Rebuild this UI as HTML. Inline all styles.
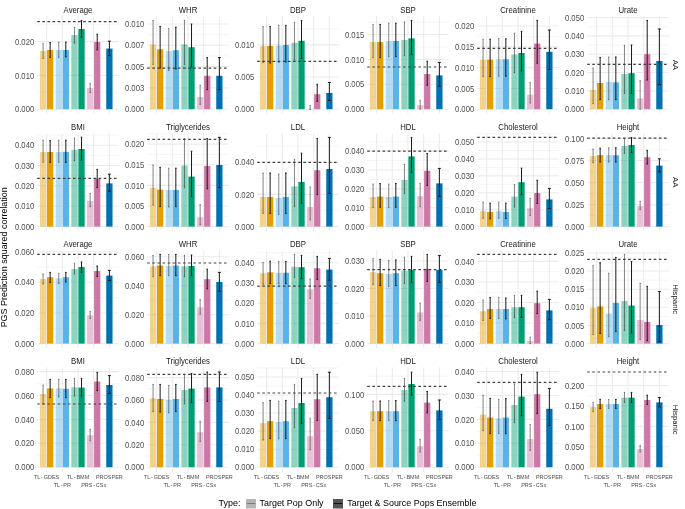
<!DOCTYPE html>
<html><head><meta charset="utf-8"><style>
html,body{margin:0;padding:0;background:#fff;}
svg{display:block;will-change:transform;filter:blur(0.35px);}
text{font-family:"Liberation Sans", sans-serif;}
.tk{font-size:7.7px;fill:#4D4D4D;text-anchor:end;}
.st{font-size:7.8px;fill:#1A1A1A;text-anchor:middle;}
.rs{font-size:7.8px;fill:#1A1A1A;text-anchor:middle;}
.xl{font-size:5.5px;fill:#4D4D4D;text-anchor:middle;}
.yt{font-size:8.95px;fill:#000;text-anchor:middle;}
.lg{font-size:8.95px;fill:#000;}
</style></head><body>
<svg width="685" height="509" viewBox="0 0 685 509">
<rect width="685" height="509" fill="#fff"/>
<line x1="37.2" y1="92.3" x2="118.8" y2="92.3" stroke="#EBEBEB" stroke-width="0.55"/>
<line x1="37.2" y1="58.5" x2="118.8" y2="58.5" stroke="#EBEBEB" stroke-width="0.55"/>
<line x1="37.2" y1="24.7" x2="118.8" y2="24.7" stroke="#EBEBEB" stroke-width="0.55"/>
<line x1="37.2" y1="109.2" x2="118.8" y2="109.2" stroke="#EBEBEB" stroke-width="1.07"/>
<line x1="37.2" y1="75.4" x2="118.8" y2="75.4" stroke="#EBEBEB" stroke-width="1.07"/>
<line x1="37.2" y1="41.6" x2="118.8" y2="41.6" stroke="#EBEBEB" stroke-width="1.07"/>
<line x1="46.61" y1="16.1" x2="46.61" y2="113.6" stroke="#EBEBEB" stroke-width="1.07"/>
<line x1="62.3" y1="16.1" x2="62.3" y2="113.6" stroke="#EBEBEB" stroke-width="1.07"/>
<line x1="77.99" y1="16.1" x2="77.99" y2="113.6" stroke="#EBEBEB" stroke-width="1.07"/>
<line x1="93.68" y1="16.1" x2="93.68" y2="113.6" stroke="#EBEBEB" stroke-width="1.07"/>
<line x1="109.37" y1="16.1" x2="109.37" y2="113.6" stroke="#EBEBEB" stroke-width="1.07"/>
<text transform="translate(34.2 112.35) scale(1 1.12)" class="tk">0.000</text>
<text transform="translate(34.2 78.55) scale(1 1.12)" class="tk">0.010</text>
<text transform="translate(34.2 44.75) scale(1 1.12)" class="tk">0.020</text>
<rect x="39.95" y="51" width="6.28" height="58.2" fill="#E69F00" fill-opacity="0.45"/>
<rect x="47.01" y="50" width="6.28" height="59.2" fill="#E69F00"/>
<rect x="55.64" y="50" width="6.28" height="59.2" fill="#56B4E9" fill-opacity="0.45"/>
<rect x="62.7" y="50" width="6.28" height="59.2" fill="#56B4E9"/>
<rect x="71.33" y="35" width="6.28" height="74.2" fill="#009E73" fill-opacity="0.45"/>
<rect x="78.39" y="29" width="6.28" height="80.2" fill="#009E73"/>
<rect x="87.02" y="88" width="6.28" height="21.2" fill="#CC79A7" fill-opacity="0.45"/>
<rect x="94.08" y="42" width="6.28" height="67.2" fill="#CC79A7"/>
<rect x="106.24" y="48.6" width="6.28" height="60.6" fill="#0072B2"/>
<path d="M43.08 43.6V58.4M42.43 43.6H43.73M42.43 58.4H43.73" stroke="#333333" stroke-width="0.6" fill="none"/>
<path d="M50.14 42.6V57.4M49.34 42.6H50.94M49.34 57.4H50.94" stroke="#1A1A1A" stroke-width="1.0" fill="none"/>
<path d="M58.77 42.4V57.4M58.12 42.4H59.42M58.12 57.4H59.42" stroke="#333333" stroke-width="0.6" fill="none"/>
<path d="M65.83 42.2V56.8M65.03 42.2H66.63M65.03 56.8H66.63" stroke="#1A1A1A" stroke-width="1.0" fill="none"/>
<path d="M74.46 27.2V43.2M73.81 27.2H75.11M73.81 43.2H75.11" stroke="#333333" stroke-width="0.6" fill="none"/>
<path d="M81.52 20.4V37.2M80.72 20.4H82.32M80.72 37.2H82.32" stroke="#1A1A1A" stroke-width="1.0" fill="none"/>
<path d="M90.15 83.2V92.6M89.5 83.2H90.8M89.5 92.6H90.8" stroke="#333333" stroke-width="0.6" fill="none"/>
<path d="M97.21 34.2V49.8M96.41 34.2H98.01M96.41 49.8H98.01" stroke="#1A1A1A" stroke-width="1.0" fill="none"/>
<path d="M109.37 41.2V55.6M107.87 41.2H110.87M107.87 55.6H110.87" stroke="#1A1A1A" stroke-width="1.0" fill="none"/>
<line x1="37.2" y1="21.6" x2="118.8" y2="21.6" stroke="#404040" stroke-width="1.2" stroke-dasharray="2.58 2.54"/>
<text transform="translate(78 12.6) scale(1 1.12)" class="st">Average</text>
<line x1="147.2" y1="98.55" x2="228.8" y2="98.55" stroke="#EBEBEB" stroke-width="0.55"/>
<line x1="147.2" y1="77.25" x2="228.8" y2="77.25" stroke="#EBEBEB" stroke-width="0.55"/>
<line x1="147.2" y1="55.95" x2="228.8" y2="55.95" stroke="#EBEBEB" stroke-width="0.55"/>
<line x1="147.2" y1="34.65" x2="228.8" y2="34.65" stroke="#EBEBEB" stroke-width="0.55"/>
<line x1="147.2" y1="109.2" x2="228.8" y2="109.2" stroke="#EBEBEB" stroke-width="1.07"/>
<line x1="147.2" y1="87.9" x2="228.8" y2="87.9" stroke="#EBEBEB" stroke-width="1.07"/>
<line x1="147.2" y1="66.6" x2="228.8" y2="66.6" stroke="#EBEBEB" stroke-width="1.07"/>
<line x1="147.2" y1="45.3" x2="228.8" y2="45.3" stroke="#EBEBEB" stroke-width="1.07"/>
<line x1="147.2" y1="24" x2="228.8" y2="24" stroke="#EBEBEB" stroke-width="1.07"/>
<line x1="156.61" y1="16.1" x2="156.61" y2="113.6" stroke="#EBEBEB" stroke-width="1.07"/>
<line x1="172.3" y1="16.1" x2="172.3" y2="113.6" stroke="#EBEBEB" stroke-width="1.07"/>
<line x1="187.99" y1="16.1" x2="187.99" y2="113.6" stroke="#EBEBEB" stroke-width="1.07"/>
<line x1="203.68" y1="16.1" x2="203.68" y2="113.6" stroke="#EBEBEB" stroke-width="1.07"/>
<line x1="219.37" y1="16.1" x2="219.37" y2="113.6" stroke="#EBEBEB" stroke-width="1.07"/>
<text transform="translate(144.2 112.35) scale(1 1.12)" class="tk">0.000</text>
<text transform="translate(144.2 91.05) scale(1 1.12)" class="tk">0.003</text>
<text transform="translate(144.2 69.75) scale(1 1.12)" class="tk">0.005</text>
<text transform="translate(144.2 48.45) scale(1 1.12)" class="tk">0.007</text>
<text transform="translate(144.2 27.15) scale(1 1.12)" class="tk">0.010</text>
<rect x="149.95" y="44.4" width="6.28" height="64.8" fill="#E69F00" fill-opacity="0.45"/>
<rect x="157.01" y="49.2" width="6.28" height="60" fill="#E69F00"/>
<rect x="165.64" y="51" width="6.28" height="58.2" fill="#56B4E9" fill-opacity="0.45"/>
<rect x="172.7" y="50.2" width="6.28" height="59" fill="#56B4E9"/>
<rect x="181.33" y="44.4" width="6.28" height="64.8" fill="#009E73" fill-opacity="0.45"/>
<rect x="188.39" y="47.2" width="6.28" height="62" fill="#009E73"/>
<rect x="197.02" y="97" width="6.28" height="12.2" fill="#CC79A7" fill-opacity="0.45"/>
<rect x="204.08" y="75.8" width="6.28" height="33.4" fill="#CC79A7"/>
<rect x="216.24" y="75.8" width="6.28" height="33.4" fill="#0072B2"/>
<path d="M153.08 20.4V64.4M152.43 20.4H153.73M152.43 64.4H153.73" stroke="#333333" stroke-width="0.6" fill="none"/>
<path d="M160.14 26.4V68M159.34 26.4H160.94M159.34 68H160.94" stroke="#1A1A1A" stroke-width="1.0" fill="none"/>
<path d="M168.77 28.4V70.4M168.12 28.4H169.42M168.12 70.4H169.42" stroke="#333333" stroke-width="0.6" fill="none"/>
<path d="M175.83 27.2V69M175.03 27.2H176.63M175.03 69H176.63" stroke="#1A1A1A" stroke-width="1.0" fill="none"/>
<path d="M184.46 20.4V64.4M183.81 20.4H185.11M183.81 64.4H185.11" stroke="#333333" stroke-width="0.6" fill="none"/>
<path d="M191.52 24V67M190.72 24H192.32M190.72 67H192.32" stroke="#1A1A1A" stroke-width="1.0" fill="none"/>
<path d="M200.15 85.2V104.4M199.5 85.2H200.8M199.5 104.4H200.8" stroke="#333333" stroke-width="0.6" fill="none"/>
<path d="M207.21 57.6V89.6M206.41 57.6H208.01M206.41 89.6H208.01" stroke="#1A1A1A" stroke-width="1.0" fill="none"/>
<path d="M219.37 57.6V89.6M217.87 57.6H220.87M217.87 89.6H220.87" stroke="#1A1A1A" stroke-width="1.0" fill="none"/>
<line x1="147.2" y1="68.2" x2="228.8" y2="68.2" stroke="#404040" stroke-width="1.2" stroke-dasharray="2.58 2.54"/>
<text transform="translate(188 12.6) scale(1 1.12)" class="st">WHR</text>
<line x1="257.2" y1="93.12" x2="338.8" y2="93.12" stroke="#EBEBEB" stroke-width="0.55"/>
<line x1="257.2" y1="60.96" x2="338.8" y2="60.96" stroke="#EBEBEB" stroke-width="0.55"/>
<line x1="257.2" y1="28.8" x2="338.8" y2="28.8" stroke="#EBEBEB" stroke-width="0.55"/>
<line x1="257.2" y1="109.2" x2="338.8" y2="109.2" stroke="#EBEBEB" stroke-width="1.07"/>
<line x1="257.2" y1="77.04" x2="338.8" y2="77.04" stroke="#EBEBEB" stroke-width="1.07"/>
<line x1="257.2" y1="44.88" x2="338.8" y2="44.88" stroke="#EBEBEB" stroke-width="1.07"/>
<line x1="266.61" y1="16.1" x2="266.61" y2="113.6" stroke="#EBEBEB" stroke-width="1.07"/>
<line x1="282.3" y1="16.1" x2="282.3" y2="113.6" stroke="#EBEBEB" stroke-width="1.07"/>
<line x1="297.99" y1="16.1" x2="297.99" y2="113.6" stroke="#EBEBEB" stroke-width="1.07"/>
<line x1="313.68" y1="16.1" x2="313.68" y2="113.6" stroke="#EBEBEB" stroke-width="1.07"/>
<line x1="329.37" y1="16.1" x2="329.37" y2="113.6" stroke="#EBEBEB" stroke-width="1.07"/>
<text transform="translate(254.2 112.35) scale(1 1.12)" class="tk">0.000</text>
<text transform="translate(254.2 80.19) scale(1 1.12)" class="tk">0.005</text>
<text transform="translate(254.2 48.03) scale(1 1.12)" class="tk">0.010</text>
<rect x="259.95" y="46.2" width="6.28" height="63" fill="#E69F00" fill-opacity="0.45"/>
<rect x="267.01" y="46" width="6.28" height="63.2" fill="#E69F00"/>
<rect x="275.64" y="45.6" width="6.28" height="63.6" fill="#56B4E9" fill-opacity="0.45"/>
<rect x="282.7" y="45" width="6.28" height="64.2" fill="#56B4E9"/>
<rect x="291.33" y="42.8" width="6.28" height="66.4" fill="#009E73" fill-opacity="0.45"/>
<rect x="298.39" y="40.8" width="6.28" height="68.4" fill="#009E73"/>
<rect x="307.02" y="108.8" width="6.28" height="0.4" fill="#CC79A7" fill-opacity="0.45"/>
<rect x="314.08" y="94.2" width="6.28" height="15" fill="#CC79A7"/>
<rect x="326.24" y="93" width="6.28" height="16.2" fill="#0072B2"/>
<path d="M263.08 26.6V62.6M262.43 26.6H263.73M262.43 62.6H263.73" stroke="#333333" stroke-width="0.6" fill="none"/>
<path d="M270.14 26.6V63M269.34 26.6H270.94M269.34 63H270.94" stroke="#1A1A1A" stroke-width="1.0" fill="none"/>
<path d="M278.77 25.4V62.6M278.12 25.4H279.42M278.12 62.6H279.42" stroke="#333333" stroke-width="0.6" fill="none"/>
<path d="M285.83 25.4V62M285.03 25.4H286.63M285.03 62H286.63" stroke="#1A1A1A" stroke-width="1.0" fill="none"/>
<path d="M294.46 22.4V60M293.81 22.4H295.11M293.81 60H295.11" stroke="#333333" stroke-width="0.6" fill="none"/>
<path d="M301.52 20.4V58.4M300.72 20.4H302.32M300.72 58.4H302.32" stroke="#1A1A1A" stroke-width="1.0" fill="none"/>
<path d="M310.15 105.6V109.6M309.5 105.6H310.8M309.5 109.6H310.8" stroke="#333333" stroke-width="0.6" fill="none"/>
<path d="M317.21 84.2V101.4M316.41 84.2H318.01M316.41 101.4H318.01" stroke="#1A1A1A" stroke-width="1.0" fill="none"/>
<path d="M329.37 82.4V100.4M327.87 82.4H330.87M327.87 100.4H330.87" stroke="#1A1A1A" stroke-width="1.0" fill="none"/>
<line x1="257.2" y1="61.4" x2="338.8" y2="61.4" stroke="#404040" stroke-width="1.2" stroke-dasharray="2.58 2.54"/>
<text transform="translate(298 12.6) scale(1 1.12)" class="st">DBP</text>
<line x1="367.2" y1="96.76" x2="448.8" y2="96.76" stroke="#EBEBEB" stroke-width="0.55"/>
<line x1="367.2" y1="71.87" x2="448.8" y2="71.87" stroke="#EBEBEB" stroke-width="0.55"/>
<line x1="367.2" y1="46.99" x2="448.8" y2="46.99" stroke="#EBEBEB" stroke-width="0.55"/>
<line x1="367.2" y1="22.1" x2="448.8" y2="22.1" stroke="#EBEBEB" stroke-width="0.55"/>
<line x1="367.2" y1="109.2" x2="448.8" y2="109.2" stroke="#EBEBEB" stroke-width="1.07"/>
<line x1="367.2" y1="84.31" x2="448.8" y2="84.31" stroke="#EBEBEB" stroke-width="1.07"/>
<line x1="367.2" y1="59.43" x2="448.8" y2="59.43" stroke="#EBEBEB" stroke-width="1.07"/>
<line x1="367.2" y1="34.54" x2="448.8" y2="34.54" stroke="#EBEBEB" stroke-width="1.07"/>
<line x1="376.61" y1="16.1" x2="376.61" y2="113.6" stroke="#EBEBEB" stroke-width="1.07"/>
<line x1="392.3" y1="16.1" x2="392.3" y2="113.6" stroke="#EBEBEB" stroke-width="1.07"/>
<line x1="407.99" y1="16.1" x2="407.99" y2="113.6" stroke="#EBEBEB" stroke-width="1.07"/>
<line x1="423.68" y1="16.1" x2="423.68" y2="113.6" stroke="#EBEBEB" stroke-width="1.07"/>
<line x1="439.37" y1="16.1" x2="439.37" y2="113.6" stroke="#EBEBEB" stroke-width="1.07"/>
<text transform="translate(364.2 112.35) scale(1 1.12)" class="tk">0.000</text>
<text transform="translate(364.2 87.46) scale(1 1.12)" class="tk">0.005</text>
<text transform="translate(364.2 62.58) scale(1 1.12)" class="tk">0.010</text>
<text transform="translate(364.2 37.69) scale(1 1.12)" class="tk">0.015</text>
<rect x="369.95" y="42" width="6.28" height="67.2" fill="#E69F00" fill-opacity="0.45"/>
<rect x="377.01" y="42" width="6.28" height="67.2" fill="#E69F00"/>
<rect x="385.64" y="41" width="6.28" height="68.2" fill="#56B4E9" fill-opacity="0.45"/>
<rect x="392.7" y="41" width="6.28" height="68.2" fill="#56B4E9"/>
<rect x="401.33" y="40" width="6.28" height="69.2" fill="#009E73" fill-opacity="0.45"/>
<rect x="408.39" y="38.4" width="6.28" height="70.8" fill="#009E73"/>
<rect x="417.02" y="105.2" width="6.28" height="4" fill="#CC79A7" fill-opacity="0.45"/>
<rect x="424.08" y="74" width="6.28" height="35.2" fill="#CC79A7"/>
<rect x="436.24" y="75.4" width="6.28" height="33.8" fill="#0072B2"/>
<path d="M373.08 24.4V57.6M372.43 24.4H373.73M372.43 57.6H373.73" stroke="#333333" stroke-width="0.6" fill="none"/>
<path d="M380.14 24.4V57.6M379.34 24.4H380.94M379.34 57.6H380.94" stroke="#1A1A1A" stroke-width="1.0" fill="none"/>
<path d="M388.77 23.2V56.6M388.12 23.2H389.42M388.12 56.6H389.42" stroke="#333333" stroke-width="0.6" fill="none"/>
<path d="M395.83 23.2V56.6M395.03 23.2H396.63M395.03 56.6H396.63" stroke="#1A1A1A" stroke-width="1.0" fill="none"/>
<path d="M404.46 22V55.6M403.81 22H405.11M403.81 55.6H405.11" stroke="#333333" stroke-width="0.6" fill="none"/>
<path d="M411.52 20.4V54.6M410.72 20.4H412.32M410.72 54.6H412.32" stroke="#1A1A1A" stroke-width="1.0" fill="none"/>
<path d="M420.15 100.2V109.2M419.5 100.2H420.8M419.5 109.2H420.8" stroke="#333333" stroke-width="0.6" fill="none"/>
<path d="M427.21 61.2V85.2M426.41 61.2H428.01M426.41 85.2H428.01" stroke="#1A1A1A" stroke-width="1.0" fill="none"/>
<path d="M439.37 62.4V86.2M437.87 62.4H440.87M437.87 86.2H440.87" stroke="#1A1A1A" stroke-width="1.0" fill="none"/>
<line x1="367.2" y1="67" x2="448.8" y2="67" stroke="#404040" stroke-width="1.2" stroke-dasharray="2.58 2.54"/>
<text transform="translate(408 12.6) scale(1 1.12)" class="st">SBP</text>
<line x1="477.2" y1="98.81" x2="558.8" y2="98.81" stroke="#EBEBEB" stroke-width="0.55"/>
<line x1="477.2" y1="78.02" x2="558.8" y2="78.02" stroke="#EBEBEB" stroke-width="0.55"/>
<line x1="477.2" y1="57.23" x2="558.8" y2="57.23" stroke="#EBEBEB" stroke-width="0.55"/>
<line x1="477.2" y1="36.45" x2="558.8" y2="36.45" stroke="#EBEBEB" stroke-width="0.55"/>
<line x1="477.2" y1="109.2" x2="558.8" y2="109.2" stroke="#EBEBEB" stroke-width="1.07"/>
<line x1="477.2" y1="88.41" x2="558.8" y2="88.41" stroke="#EBEBEB" stroke-width="1.07"/>
<line x1="477.2" y1="67.63" x2="558.8" y2="67.63" stroke="#EBEBEB" stroke-width="1.07"/>
<line x1="477.2" y1="46.84" x2="558.8" y2="46.84" stroke="#EBEBEB" stroke-width="1.07"/>
<line x1="477.2" y1="26.05" x2="558.8" y2="26.05" stroke="#EBEBEB" stroke-width="1.07"/>
<line x1="486.61" y1="16.1" x2="486.61" y2="113.6" stroke="#EBEBEB" stroke-width="1.07"/>
<line x1="502.3" y1="16.1" x2="502.3" y2="113.6" stroke="#EBEBEB" stroke-width="1.07"/>
<line x1="517.99" y1="16.1" x2="517.99" y2="113.6" stroke="#EBEBEB" stroke-width="1.07"/>
<line x1="533.68" y1="16.1" x2="533.68" y2="113.6" stroke="#EBEBEB" stroke-width="1.07"/>
<line x1="549.37" y1="16.1" x2="549.37" y2="113.6" stroke="#EBEBEB" stroke-width="1.07"/>
<text transform="translate(474.2 112.35) scale(1 1.12)" class="tk">0.000</text>
<text transform="translate(474.2 91.56) scale(1 1.12)" class="tk">0.005</text>
<text transform="translate(474.2 70.78) scale(1 1.12)" class="tk">0.010</text>
<text transform="translate(474.2 49.99) scale(1 1.12)" class="tk">0.015</text>
<text transform="translate(474.2 29.2) scale(1 1.12)" class="tk">0.020</text>
<rect x="479.95" y="59.6" width="6.28" height="49.6" fill="#E69F00" fill-opacity="0.45"/>
<rect x="487.01" y="59.6" width="6.28" height="49.6" fill="#E69F00"/>
<rect x="495.64" y="59.2" width="6.28" height="50" fill="#56B4E9" fill-opacity="0.45"/>
<rect x="502.7" y="59.2" width="6.28" height="50" fill="#56B4E9"/>
<rect x="511.33" y="54.4" width="6.28" height="54.8" fill="#009E73" fill-opacity="0.45"/>
<rect x="518.39" y="53" width="6.28" height="56.2" fill="#009E73"/>
<rect x="527.02" y="94.6" width="6.28" height="14.6" fill="#CC79A7" fill-opacity="0.45"/>
<rect x="534.08" y="43.6" width="6.28" height="65.6" fill="#CC79A7"/>
<rect x="546.24" y="51.8" width="6.28" height="57.4" fill="#0072B2"/>
<path d="M483.08 39.2V76.6M482.43 39.2H483.73M482.43 76.6H483.73" stroke="#333333" stroke-width="0.6" fill="none"/>
<path d="M490.14 39.2V76.6M489.34 39.2H490.94M489.34 76.6H490.94" stroke="#1A1A1A" stroke-width="1.0" fill="none"/>
<path d="M498.77 38.4V76.2M498.12 38.4H499.42M498.12 76.2H499.42" stroke="#333333" stroke-width="0.6" fill="none"/>
<path d="M505.83 38.8V76.2M505.03 38.8H506.63M505.03 76.2H506.63" stroke="#1A1A1A" stroke-width="1.0" fill="none"/>
<path d="M514.46 33.2V72.6M513.81 33.2H515.11M513.81 72.6H515.11" stroke="#333333" stroke-width="0.6" fill="none"/>
<path d="M521.52 31.4V71M520.72 31.4H522.32M520.72 71H522.32" stroke="#1A1A1A" stroke-width="1.0" fill="none"/>
<path d="M530.15 82.4V103M529.5 82.4H530.8M529.5 103H530.8" stroke="#333333" stroke-width="0.6" fill="none"/>
<path d="M537.21 20.4V63.2M536.41 20.4H538.01M536.41 63.2H538.01" stroke="#1A1A1A" stroke-width="1.0" fill="none"/>
<path d="M549.37 30V69.4M547.87 30H550.87M547.87 69.4H550.87" stroke="#1A1A1A" stroke-width="1.0" fill="none"/>
<line x1="477.2" y1="48.4" x2="558.8" y2="48.4" stroke="#404040" stroke-width="1.2" stroke-dasharray="2.58 2.54"/>
<text transform="translate(518 12.6) scale(1 1.12)" class="st">Creatinine</text>
<line x1="587.2" y1="100.04" x2="668.8" y2="100.04" stroke="#EBEBEB" stroke-width="0.55"/>
<line x1="587.2" y1="81.71" x2="668.8" y2="81.71" stroke="#EBEBEB" stroke-width="0.55"/>
<line x1="587.2" y1="63.38" x2="668.8" y2="63.38" stroke="#EBEBEB" stroke-width="0.55"/>
<line x1="587.2" y1="45.05" x2="668.8" y2="45.05" stroke="#EBEBEB" stroke-width="0.55"/>
<line x1="587.2" y1="26.73" x2="668.8" y2="26.73" stroke="#EBEBEB" stroke-width="0.55"/>
<line x1="587.2" y1="109.2" x2="668.8" y2="109.2" stroke="#EBEBEB" stroke-width="1.07"/>
<line x1="587.2" y1="90.87" x2="668.8" y2="90.87" stroke="#EBEBEB" stroke-width="1.07"/>
<line x1="587.2" y1="72.55" x2="668.8" y2="72.55" stroke="#EBEBEB" stroke-width="1.07"/>
<line x1="587.2" y1="54.22" x2="668.8" y2="54.22" stroke="#EBEBEB" stroke-width="1.07"/>
<line x1="587.2" y1="35.89" x2="668.8" y2="35.89" stroke="#EBEBEB" stroke-width="1.07"/>
<line x1="587.2" y1="17.56" x2="668.8" y2="17.56" stroke="#EBEBEB" stroke-width="1.07"/>
<line x1="596.61" y1="16.1" x2="596.61" y2="113.6" stroke="#EBEBEB" stroke-width="1.07"/>
<line x1="612.3" y1="16.1" x2="612.3" y2="113.6" stroke="#EBEBEB" stroke-width="1.07"/>
<line x1="627.99" y1="16.1" x2="627.99" y2="113.6" stroke="#EBEBEB" stroke-width="1.07"/>
<line x1="643.68" y1="16.1" x2="643.68" y2="113.6" stroke="#EBEBEB" stroke-width="1.07"/>
<line x1="659.37" y1="16.1" x2="659.37" y2="113.6" stroke="#EBEBEB" stroke-width="1.07"/>
<text transform="translate(584.2 112.35) scale(1 1.12)" class="tk">0.000</text>
<text transform="translate(584.2 94.02) scale(1 1.12)" class="tk">0.010</text>
<text transform="translate(584.2 75.7) scale(1 1.12)" class="tk">0.020</text>
<text transform="translate(584.2 57.37) scale(1 1.12)" class="tk">0.030</text>
<text transform="translate(584.2 39.04) scale(1 1.12)" class="tk">0.040</text>
<text transform="translate(584.2 20.71) scale(1 1.12)" class="tk">0.050</text>
<rect x="589.95" y="90" width="6.28" height="19.2" fill="#E69F00" fill-opacity="0.45"/>
<rect x="597.01" y="83" width="6.28" height="26.2" fill="#E69F00"/>
<rect x="605.64" y="82" width="6.28" height="27.2" fill="#56B4E9" fill-opacity="0.45"/>
<rect x="612.7" y="82.4" width="6.28" height="26.8" fill="#56B4E9"/>
<rect x="621.33" y="74" width="6.28" height="35.2" fill="#009E73" fill-opacity="0.45"/>
<rect x="628.39" y="73.2" width="6.28" height="36" fill="#009E73"/>
<rect x="637.02" y="98.4" width="6.28" height="10.8" fill="#CC79A7" fill-opacity="0.45"/>
<rect x="644.08" y="54.2" width="6.28" height="55" fill="#CC79A7"/>
<rect x="656.24" y="61" width="6.28" height="48.2" fill="#0072B2"/>
<path d="M593.08 68V103.6M592.43 68H593.73M592.43 103.6H593.73" stroke="#333333" stroke-width="0.6" fill="none"/>
<path d="M600.14 57.6V99.6M599.34 57.6H600.94M599.34 99.6H600.94" stroke="#1A1A1A" stroke-width="1.0" fill="none"/>
<path d="M608.77 57V99.6M608.12 57H609.42M608.12 99.6H609.42" stroke="#333333" stroke-width="0.6" fill="none"/>
<path d="M615.83 57V99.6M615.03 57H616.63M615.03 99.6H616.63" stroke="#1A1A1A" stroke-width="1.0" fill="none"/>
<path d="M624.46 45.4V93.6M623.81 45.4H625.11M623.81 93.6H625.11" stroke="#333333" stroke-width="0.6" fill="none"/>
<path d="M631.52 45V93.6M630.72 45H632.32M630.72 93.6H632.32" stroke="#1A1A1A" stroke-width="1.0" fill="none"/>
<path d="M640.15 80.6V109.2M639.5 80.6H640.8M639.5 109.2H640.8" stroke="#333333" stroke-width="0.6" fill="none"/>
<path d="M647.21 20.4V80M646.41 20.4H648.01M646.41 80H648.01" stroke="#1A1A1A" stroke-width="1.0" fill="none"/>
<path d="M659.37 29V84.6M657.87 29H660.87M657.87 84.6H660.87" stroke="#1A1A1A" stroke-width="1.0" fill="none"/>
<line x1="587.2" y1="64.4" x2="668.8" y2="64.4" stroke="#404040" stroke-width="1.2" stroke-dasharray="2.58 2.54"/>
<text transform="translate(628 12.6) scale(1 1.12)" class="st">Urate</text>
<text transform="translate(672.7 64.85) rotate(90)" class="rs">AA</text>
<line x1="37.2" y1="216.42" x2="118.8" y2="216.42" stroke="#EBEBEB" stroke-width="0.55"/>
<line x1="37.2" y1="196.07" x2="118.8" y2="196.07" stroke="#EBEBEB" stroke-width="0.55"/>
<line x1="37.2" y1="175.72" x2="118.8" y2="175.72" stroke="#EBEBEB" stroke-width="0.55"/>
<line x1="37.2" y1="155.36" x2="118.8" y2="155.36" stroke="#EBEBEB" stroke-width="0.55"/>
<line x1="37.2" y1="135.01" x2="118.8" y2="135.01" stroke="#EBEBEB" stroke-width="0.55"/>
<line x1="37.2" y1="226.6" x2="118.8" y2="226.6" stroke="#EBEBEB" stroke-width="1.07"/>
<line x1="37.2" y1="206.25" x2="118.8" y2="206.25" stroke="#EBEBEB" stroke-width="1.07"/>
<line x1="37.2" y1="185.89" x2="118.8" y2="185.89" stroke="#EBEBEB" stroke-width="1.07"/>
<line x1="37.2" y1="165.54" x2="118.8" y2="165.54" stroke="#EBEBEB" stroke-width="1.07"/>
<line x1="37.2" y1="145.19" x2="118.8" y2="145.19" stroke="#EBEBEB" stroke-width="1.07"/>
<line x1="46.61" y1="133.4" x2="46.61" y2="231" stroke="#EBEBEB" stroke-width="1.07"/>
<line x1="62.3" y1="133.4" x2="62.3" y2="231" stroke="#EBEBEB" stroke-width="1.07"/>
<line x1="77.99" y1="133.4" x2="77.99" y2="231" stroke="#EBEBEB" stroke-width="1.07"/>
<line x1="93.68" y1="133.4" x2="93.68" y2="231" stroke="#EBEBEB" stroke-width="1.07"/>
<line x1="109.37" y1="133.4" x2="109.37" y2="231" stroke="#EBEBEB" stroke-width="1.07"/>
<text transform="translate(34.2 229.75) scale(1 1.12)" class="tk">0.000</text>
<text transform="translate(34.2 209.4) scale(1 1.12)" class="tk">0.010</text>
<text transform="translate(34.2 189.04) scale(1 1.12)" class="tk">0.020</text>
<text transform="translate(34.2 168.69) scale(1 1.12)" class="tk">0.030</text>
<text transform="translate(34.2 148.34) scale(1 1.12)" class="tk">0.040</text>
<rect x="39.95" y="152" width="6.28" height="74.6" fill="#E69F00" fill-opacity="0.45"/>
<rect x="47.01" y="152" width="6.28" height="74.6" fill="#E69F00"/>
<rect x="55.64" y="152" width="6.28" height="74.6" fill="#56B4E9" fill-opacity="0.45"/>
<rect x="62.7" y="151.8" width="6.28" height="74.8" fill="#56B4E9"/>
<rect x="71.33" y="149.8" width="6.28" height="76.8" fill="#009E73" fill-opacity="0.45"/>
<rect x="78.39" y="149" width="6.28" height="77.6" fill="#009E73"/>
<rect x="87.02" y="201" width="6.28" height="25.6" fill="#CC79A7" fill-opacity="0.45"/>
<rect x="94.08" y="178.6" width="6.28" height="48" fill="#CC79A7"/>
<rect x="106.24" y="183.4" width="6.28" height="43.2" fill="#0072B2"/>
<path d="M43.08 140.2V162.4M42.43 140.2H43.73M42.43 162.4H43.73" stroke="#333333" stroke-width="0.6" fill="none"/>
<path d="M50.14 140.6V162.4M49.34 140.6H50.94M49.34 162.4H50.94" stroke="#1A1A1A" stroke-width="1.0" fill="none"/>
<path d="M58.77 140.2V162.4M58.12 140.2H59.42M58.12 162.4H59.42" stroke="#333333" stroke-width="0.6" fill="none"/>
<path d="M65.83 140.2V162.4M65.03 140.2H66.63M65.03 162.4H66.63" stroke="#1A1A1A" stroke-width="1.0" fill="none"/>
<path d="M74.46 138V160.6M73.81 138H75.11M73.81 160.6H75.11" stroke="#333333" stroke-width="0.6" fill="none"/>
<path d="M81.52 137.2V160M80.72 137.2H82.32M80.72 160H82.32" stroke="#1A1A1A" stroke-width="1.0" fill="none"/>
<path d="M90.15 193.4V206.6M89.5 193.4H90.8M89.5 206.6H90.8" stroke="#333333" stroke-width="0.6" fill="none"/>
<path d="M97.21 169.4V187.6M96.41 169.4H98.01M96.41 187.6H98.01" stroke="#1A1A1A" stroke-width="1.0" fill="none"/>
<path d="M109.37 174.2V191.2M107.87 174.2H110.87M107.87 191.2H110.87" stroke="#1A1A1A" stroke-width="1.0" fill="none"/>
<line x1="37.2" y1="178.4" x2="118.8" y2="178.4" stroke="#404040" stroke-width="1.2" stroke-dasharray="2.58 2.54"/>
<text transform="translate(78 129.9) scale(1 1.12)" class="st">BMI</text>
<line x1="147.2" y1="216.29" x2="228.8" y2="216.29" stroke="#EBEBEB" stroke-width="0.55"/>
<line x1="147.2" y1="195.68" x2="228.8" y2="195.68" stroke="#EBEBEB" stroke-width="0.55"/>
<line x1="147.2" y1="175.07" x2="228.8" y2="175.07" stroke="#EBEBEB" stroke-width="0.55"/>
<line x1="147.2" y1="154.45" x2="228.8" y2="154.45" stroke="#EBEBEB" stroke-width="0.55"/>
<line x1="147.2" y1="133.84" x2="228.8" y2="133.84" stroke="#EBEBEB" stroke-width="0.55"/>
<line x1="147.2" y1="226.6" x2="228.8" y2="226.6" stroke="#EBEBEB" stroke-width="1.07"/>
<line x1="147.2" y1="205.99" x2="228.8" y2="205.99" stroke="#EBEBEB" stroke-width="1.07"/>
<line x1="147.2" y1="185.37" x2="228.8" y2="185.37" stroke="#EBEBEB" stroke-width="1.07"/>
<line x1="147.2" y1="164.76" x2="228.8" y2="164.76" stroke="#EBEBEB" stroke-width="1.07"/>
<line x1="147.2" y1="144.15" x2="228.8" y2="144.15" stroke="#EBEBEB" stroke-width="1.07"/>
<line x1="156.61" y1="133.4" x2="156.61" y2="231" stroke="#EBEBEB" stroke-width="1.07"/>
<line x1="172.3" y1="133.4" x2="172.3" y2="231" stroke="#EBEBEB" stroke-width="1.07"/>
<line x1="187.99" y1="133.4" x2="187.99" y2="231" stroke="#EBEBEB" stroke-width="1.07"/>
<line x1="203.68" y1="133.4" x2="203.68" y2="231" stroke="#EBEBEB" stroke-width="1.07"/>
<line x1="219.37" y1="133.4" x2="219.37" y2="231" stroke="#EBEBEB" stroke-width="1.07"/>
<text transform="translate(144.2 229.75) scale(1 1.12)" class="tk">0.000</text>
<text transform="translate(144.2 209.14) scale(1 1.12)" class="tk">0.005</text>
<text transform="translate(144.2 188.52) scale(1 1.12)" class="tk">0.010</text>
<text transform="translate(144.2 167.91) scale(1 1.12)" class="tk">0.015</text>
<text transform="translate(144.2 147.3) scale(1 1.12)" class="tk">0.020</text>
<rect x="149.95" y="187.8" width="6.28" height="38.8" fill="#E69F00" fill-opacity="0.45"/>
<rect x="157.01" y="189.6" width="6.28" height="37" fill="#E69F00"/>
<rect x="165.64" y="190" width="6.28" height="36.6" fill="#56B4E9" fill-opacity="0.45"/>
<rect x="172.7" y="190" width="6.28" height="36.6" fill="#56B4E9"/>
<rect x="181.33" y="165.6" width="6.28" height="61" fill="#009E73" fill-opacity="0.45"/>
<rect x="188.39" y="176.6" width="6.28" height="50" fill="#009E73"/>
<rect x="197.02" y="217.2" width="6.28" height="9.4" fill="#CC79A7" fill-opacity="0.45"/>
<rect x="204.08" y="166" width="6.28" height="60.6" fill="#CC79A7"/>
<rect x="216.24" y="165" width="6.28" height="61.6" fill="#0072B2"/>
<path d="M153.08 165V205M152.43 165H153.73M152.43 205H153.73" stroke="#333333" stroke-width="0.6" fill="none"/>
<path d="M160.14 167.4V206.6M159.34 167.4H160.94M159.34 206.6H160.94" stroke="#1A1A1A" stroke-width="1.0" fill="none"/>
<path d="M168.77 168.2V207M168.12 168.2H169.42M168.12 207H169.42" stroke="#333333" stroke-width="0.6" fill="none"/>
<path d="M175.83 168.2V206.6M175.03 168.2H176.63M175.03 206.6H176.63" stroke="#1A1A1A" stroke-width="1.0" fill="none"/>
<path d="M184.46 138.6V187.8M183.81 138.6H185.11M183.81 187.8H185.11" stroke="#333333" stroke-width="0.6" fill="none"/>
<path d="M191.52 151.2V196.6M190.72 151.2H192.32M190.72 196.6H192.32" stroke="#1A1A1A" stroke-width="1.0" fill="none"/>
<path d="M200.15 204.6V224.6M199.5 204.6H200.8M199.5 224.6H200.8" stroke="#333333" stroke-width="0.6" fill="none"/>
<path d="M207.21 138.6V188.8M206.41 138.6H208.01M206.41 188.8H208.01" stroke="#1A1A1A" stroke-width="1.0" fill="none"/>
<path d="M219.37 137.4V187.6M217.87 137.4H220.87M217.87 187.6H220.87" stroke="#1A1A1A" stroke-width="1.0" fill="none"/>
<line x1="147.2" y1="139.4" x2="228.8" y2="139.4" stroke="#404040" stroke-width="1.2" stroke-dasharray="2.58 2.54"/>
<text transform="translate(188 129.9) scale(1 1.12)" class="st">Triglycerides</text>
<line x1="257.2" y1="210.5" x2="338.8" y2="210.5" stroke="#EBEBEB" stroke-width="0.55"/>
<line x1="257.2" y1="178.3" x2="338.8" y2="178.3" stroke="#EBEBEB" stroke-width="0.55"/>
<line x1="257.2" y1="146.1" x2="338.8" y2="146.1" stroke="#EBEBEB" stroke-width="0.55"/>
<line x1="257.2" y1="226.6" x2="338.8" y2="226.6" stroke="#EBEBEB" stroke-width="1.07"/>
<line x1="257.2" y1="194.4" x2="338.8" y2="194.4" stroke="#EBEBEB" stroke-width="1.07"/>
<line x1="257.2" y1="162.2" x2="338.8" y2="162.2" stroke="#EBEBEB" stroke-width="1.07"/>
<line x1="266.61" y1="133.4" x2="266.61" y2="231" stroke="#EBEBEB" stroke-width="1.07"/>
<line x1="282.3" y1="133.4" x2="282.3" y2="231" stroke="#EBEBEB" stroke-width="1.07"/>
<line x1="297.99" y1="133.4" x2="297.99" y2="231" stroke="#EBEBEB" stroke-width="1.07"/>
<line x1="313.68" y1="133.4" x2="313.68" y2="231" stroke="#EBEBEB" stroke-width="1.07"/>
<line x1="329.37" y1="133.4" x2="329.37" y2="231" stroke="#EBEBEB" stroke-width="1.07"/>
<text transform="translate(254.2 229.75) scale(1 1.12)" class="tk">0.000</text>
<text transform="translate(254.2 197.55) scale(1 1.12)" class="tk">0.020</text>
<text transform="translate(254.2 165.35) scale(1 1.12)" class="tk">0.040</text>
<rect x="259.95" y="197" width="6.28" height="29.6" fill="#E69F00" fill-opacity="0.45"/>
<rect x="267.01" y="197" width="6.28" height="29.6" fill="#E69F00"/>
<rect x="275.64" y="198" width="6.28" height="28.6" fill="#56B4E9" fill-opacity="0.45"/>
<rect x="282.7" y="197" width="6.28" height="29.6" fill="#56B4E9"/>
<rect x="291.33" y="186.4" width="6.28" height="40.2" fill="#009E73" fill-opacity="0.45"/>
<rect x="298.39" y="182" width="6.28" height="44.6" fill="#009E73"/>
<rect x="307.02" y="207" width="6.28" height="19.6" fill="#CC79A7" fill-opacity="0.45"/>
<rect x="314.08" y="170.2" width="6.28" height="56.4" fill="#CC79A7"/>
<rect x="326.24" y="169" width="6.28" height="57.6" fill="#0072B2"/>
<path d="M263.08 173V213.4M262.43 173H263.73M262.43 213.4H263.73" stroke="#333333" stroke-width="0.6" fill="none"/>
<path d="M270.14 173V213.4M269.34 173H270.94M269.34 213.4H270.94" stroke="#1A1A1A" stroke-width="1.0" fill="none"/>
<path d="M278.77 174V214.4M278.12 174H279.42M278.12 214.4H279.42" stroke="#333333" stroke-width="0.6" fill="none"/>
<path d="M285.83 173V213.4M285.03 173H286.63M285.03 213.4H286.63" stroke="#1A1A1A" stroke-width="1.0" fill="none"/>
<path d="M294.46 159.4V206.6M293.81 159.4H295.11M293.81 206.6H295.11" stroke="#333333" stroke-width="0.6" fill="none"/>
<path d="M301.52 153.2V203.4M300.72 153.2H302.32M300.72 203.4H302.32" stroke="#1A1A1A" stroke-width="1.0" fill="none"/>
<path d="M310.15 187V220M309.5 187H310.8M309.5 220H310.8" stroke="#333333" stroke-width="0.6" fill="none"/>
<path d="M317.21 138.6V194.6M316.41 138.6H318.01M316.41 194.6H318.01" stroke="#1A1A1A" stroke-width="1.0" fill="none"/>
<path d="M329.37 137.4V193.4M327.87 137.4H330.87M327.87 193.4H330.87" stroke="#1A1A1A" stroke-width="1.0" fill="none"/>
<line x1="257.2" y1="162.4" x2="338.8" y2="162.4" stroke="#404040" stroke-width="1.2" stroke-dasharray="2.58 2.54"/>
<text transform="translate(298 129.9) scale(1 1.12)" class="st">LDL</text>
<line x1="367.2" y1="217.17" x2="448.8" y2="217.17" stroke="#EBEBEB" stroke-width="0.55"/>
<line x1="367.2" y1="198.3" x2="448.8" y2="198.3" stroke="#EBEBEB" stroke-width="0.55"/>
<line x1="367.2" y1="179.43" x2="448.8" y2="179.43" stroke="#EBEBEB" stroke-width="0.55"/>
<line x1="367.2" y1="160.57" x2="448.8" y2="160.57" stroke="#EBEBEB" stroke-width="0.55"/>
<line x1="367.2" y1="141.7" x2="448.8" y2="141.7" stroke="#EBEBEB" stroke-width="0.55"/>
<line x1="367.2" y1="226.6" x2="448.8" y2="226.6" stroke="#EBEBEB" stroke-width="1.07"/>
<line x1="367.2" y1="207.73" x2="448.8" y2="207.73" stroke="#EBEBEB" stroke-width="1.07"/>
<line x1="367.2" y1="188.87" x2="448.8" y2="188.87" stroke="#EBEBEB" stroke-width="1.07"/>
<line x1="367.2" y1="170" x2="448.8" y2="170" stroke="#EBEBEB" stroke-width="1.07"/>
<line x1="367.2" y1="151.13" x2="448.8" y2="151.13" stroke="#EBEBEB" stroke-width="1.07"/>
<line x1="376.61" y1="133.4" x2="376.61" y2="231" stroke="#EBEBEB" stroke-width="1.07"/>
<line x1="392.3" y1="133.4" x2="392.3" y2="231" stroke="#EBEBEB" stroke-width="1.07"/>
<line x1="407.99" y1="133.4" x2="407.99" y2="231" stroke="#EBEBEB" stroke-width="1.07"/>
<line x1="423.68" y1="133.4" x2="423.68" y2="231" stroke="#EBEBEB" stroke-width="1.07"/>
<line x1="439.37" y1="133.4" x2="439.37" y2="231" stroke="#EBEBEB" stroke-width="1.07"/>
<text transform="translate(364.2 229.75) scale(1 1.12)" class="tk">0.000</text>
<text transform="translate(364.2 210.88) scale(1 1.12)" class="tk">0.010</text>
<text transform="translate(364.2 192.02) scale(1 1.12)" class="tk">0.020</text>
<text transform="translate(364.2 173.15) scale(1 1.12)" class="tk">0.030</text>
<text transform="translate(364.2 154.28) scale(1 1.12)" class="tk">0.040</text>
<rect x="369.95" y="197" width="6.28" height="29.6" fill="#E69F00" fill-opacity="0.45"/>
<rect x="377.01" y="196.6" width="6.28" height="30" fill="#E69F00"/>
<rect x="385.64" y="197" width="6.28" height="29.6" fill="#56B4E9" fill-opacity="0.45"/>
<rect x="392.7" y="196.6" width="6.28" height="30" fill="#56B4E9"/>
<rect x="401.33" y="180" width="6.28" height="46.6" fill="#009E73" fill-opacity="0.45"/>
<rect x="408.39" y="156.4" width="6.28" height="70.2" fill="#009E73"/>
<rect x="417.02" y="196.2" width="6.28" height="30.4" fill="#CC79A7" fill-opacity="0.45"/>
<rect x="424.08" y="170.8" width="6.28" height="55.8" fill="#CC79A7"/>
<rect x="436.24" y="183.4" width="6.28" height="43.2" fill="#0072B2"/>
<path d="M373.08 184V207.4M372.43 184H373.73M372.43 207.4H373.73" stroke="#333333" stroke-width="0.6" fill="none"/>
<path d="M380.14 183.6V207.2M379.34 183.6H380.94M379.34 207.2H380.94" stroke="#1A1A1A" stroke-width="1.0" fill="none"/>
<path d="M388.77 184V207.4M388.12 184H389.42M388.12 207.4H389.42" stroke="#333333" stroke-width="0.6" fill="none"/>
<path d="M395.83 183.6V207.2M395.03 183.6H396.63M395.03 207.2H396.63" stroke="#1A1A1A" stroke-width="1.0" fill="none"/>
<path d="M404.46 164.4V193.4M403.81 164.4H405.11M403.81 193.4H405.11" stroke="#333333" stroke-width="0.6" fill="none"/>
<path d="M411.52 137.4V172.6M410.72 137.4H412.32M410.72 172.6H412.32" stroke="#1A1A1A" stroke-width="1.0" fill="none"/>
<path d="M420.15 183.4V206.6M419.5 183.4H420.8M419.5 206.6H420.8" stroke="#333333" stroke-width="0.6" fill="none"/>
<path d="M427.21 153.6V185.4M426.41 153.6H428.01M426.41 185.4H428.01" stroke="#1A1A1A" stroke-width="1.0" fill="none"/>
<path d="M439.37 168.4V196.4M437.87 168.4H440.87M437.87 196.4H440.87" stroke="#1A1A1A" stroke-width="1.0" fill="none"/>
<line x1="367.2" y1="151.2" x2="448.8" y2="151.2" stroke="#404040" stroke-width="1.2" stroke-dasharray="2.58 2.54"/>
<text transform="translate(408 129.9) scale(1 1.12)" class="st">HDL</text>
<line x1="477.2" y1="218.14" x2="558.8" y2="218.14" stroke="#EBEBEB" stroke-width="0.55"/>
<line x1="477.2" y1="201.23" x2="558.8" y2="201.23" stroke="#EBEBEB" stroke-width="0.55"/>
<line x1="477.2" y1="184.31" x2="558.8" y2="184.31" stroke="#EBEBEB" stroke-width="0.55"/>
<line x1="477.2" y1="167.39" x2="558.8" y2="167.39" stroke="#EBEBEB" stroke-width="0.55"/>
<line x1="477.2" y1="150.48" x2="558.8" y2="150.48" stroke="#EBEBEB" stroke-width="0.55"/>
<line x1="477.2" y1="133.56" x2="558.8" y2="133.56" stroke="#EBEBEB" stroke-width="0.55"/>
<line x1="477.2" y1="226.6" x2="558.8" y2="226.6" stroke="#EBEBEB" stroke-width="1.07"/>
<line x1="477.2" y1="209.68" x2="558.8" y2="209.68" stroke="#EBEBEB" stroke-width="1.07"/>
<line x1="477.2" y1="192.77" x2="558.8" y2="192.77" stroke="#EBEBEB" stroke-width="1.07"/>
<line x1="477.2" y1="175.85" x2="558.8" y2="175.85" stroke="#EBEBEB" stroke-width="1.07"/>
<line x1="477.2" y1="158.93" x2="558.8" y2="158.93" stroke="#EBEBEB" stroke-width="1.07"/>
<line x1="477.2" y1="142.02" x2="558.8" y2="142.02" stroke="#EBEBEB" stroke-width="1.07"/>
<line x1="486.61" y1="133.4" x2="486.61" y2="231" stroke="#EBEBEB" stroke-width="1.07"/>
<line x1="502.3" y1="133.4" x2="502.3" y2="231" stroke="#EBEBEB" stroke-width="1.07"/>
<line x1="517.99" y1="133.4" x2="517.99" y2="231" stroke="#EBEBEB" stroke-width="1.07"/>
<line x1="533.68" y1="133.4" x2="533.68" y2="231" stroke="#EBEBEB" stroke-width="1.07"/>
<line x1="549.37" y1="133.4" x2="549.37" y2="231" stroke="#EBEBEB" stroke-width="1.07"/>
<text transform="translate(474.2 229.75) scale(1 1.12)" class="tk">0.000</text>
<text transform="translate(474.2 212.83) scale(1 1.12)" class="tk">0.010</text>
<text transform="translate(474.2 195.92) scale(1 1.12)" class="tk">0.020</text>
<text transform="translate(474.2 179) scale(1 1.12)" class="tk">0.030</text>
<text transform="translate(474.2 162.08) scale(1 1.12)" class="tk">0.040</text>
<text transform="translate(474.2 145.17) scale(1 1.12)" class="tk">0.050</text>
<rect x="479.95" y="211.2" width="6.28" height="15.4" fill="#E69F00" fill-opacity="0.45"/>
<rect x="487.01" y="212" width="6.28" height="14.6" fill="#E69F00"/>
<rect x="495.64" y="211.2" width="6.28" height="15.4" fill="#56B4E9" fill-opacity="0.45"/>
<rect x="502.7" y="212" width="6.28" height="14.6" fill="#56B4E9"/>
<rect x="511.33" y="196.6" width="6.28" height="30" fill="#009E73" fill-opacity="0.45"/>
<rect x="518.39" y="182.2" width="6.28" height="44.4" fill="#009E73"/>
<rect x="527.02" y="208.2" width="6.28" height="18.4" fill="#CC79A7" fill-opacity="0.45"/>
<rect x="534.08" y="193" width="6.28" height="33.6" fill="#CC79A7"/>
<rect x="546.24" y="199.4" width="6.28" height="27.2" fill="#0072B2"/>
<path d="M483.08 202.2V218.2M482.43 202.2H483.73M482.43 218.2H483.73" stroke="#333333" stroke-width="0.6" fill="none"/>
<path d="M490.14 203.2V218.8M489.34 203.2H490.94M489.34 218.8H490.94" stroke="#1A1A1A" stroke-width="1.0" fill="none"/>
<path d="M498.77 202.2V218.2M498.12 202.2H499.42M498.12 218.2H499.42" stroke="#333333" stroke-width="0.6" fill="none"/>
<path d="M505.83 203.2V218.4M505.03 203.2H506.63M505.03 218.4H506.63" stroke="#1A1A1A" stroke-width="1.0" fill="none"/>
<path d="M514.46 184.6V207M513.81 184.6H515.11M513.81 207H515.11" stroke="#333333" stroke-width="0.6" fill="none"/>
<path d="M521.52 168.2V194.6M520.72 168.2H522.32M520.72 194.6H522.32" stroke="#1A1A1A" stroke-width="1.0" fill="none"/>
<path d="M530.15 198.4V215.6M529.5 198.4H530.8M529.5 215.6H530.8" stroke="#333333" stroke-width="0.6" fill="none"/>
<path d="M537.21 180.2V203.4M536.41 180.2H538.01M536.41 203.4H538.01" stroke="#1A1A1A" stroke-width="1.0" fill="none"/>
<path d="M549.37 188.4V208.6M547.87 188.4H550.87M547.87 208.6H550.87" stroke="#1A1A1A" stroke-width="1.0" fill="none"/>
<line x1="477.2" y1="137.4" x2="558.8" y2="137.4" stroke="#404040" stroke-width="1.2" stroke-dasharray="2.58 2.54"/>
<text transform="translate(518 129.9) scale(1 1.12)" class="st">Cholesterol</text>
<line x1="587.2" y1="215.6" x2="668.8" y2="215.6" stroke="#EBEBEB" stroke-width="0.55"/>
<line x1="587.2" y1="193.6" x2="668.8" y2="193.6" stroke="#EBEBEB" stroke-width="0.55"/>
<line x1="587.2" y1="171.6" x2="668.8" y2="171.6" stroke="#EBEBEB" stroke-width="0.55"/>
<line x1="587.2" y1="149.6" x2="668.8" y2="149.6" stroke="#EBEBEB" stroke-width="0.55"/>
<line x1="587.2" y1="226.6" x2="668.8" y2="226.6" stroke="#EBEBEB" stroke-width="1.07"/>
<line x1="587.2" y1="204.6" x2="668.8" y2="204.6" stroke="#EBEBEB" stroke-width="1.07"/>
<line x1="587.2" y1="182.6" x2="668.8" y2="182.6" stroke="#EBEBEB" stroke-width="1.07"/>
<line x1="587.2" y1="160.6" x2="668.8" y2="160.6" stroke="#EBEBEB" stroke-width="1.07"/>
<line x1="587.2" y1="138.6" x2="668.8" y2="138.6" stroke="#EBEBEB" stroke-width="1.07"/>
<line x1="596.61" y1="133.4" x2="596.61" y2="231" stroke="#EBEBEB" stroke-width="1.07"/>
<line x1="612.3" y1="133.4" x2="612.3" y2="231" stroke="#EBEBEB" stroke-width="1.07"/>
<line x1="627.99" y1="133.4" x2="627.99" y2="231" stroke="#EBEBEB" stroke-width="1.07"/>
<line x1="643.68" y1="133.4" x2="643.68" y2="231" stroke="#EBEBEB" stroke-width="1.07"/>
<line x1="659.37" y1="133.4" x2="659.37" y2="231" stroke="#EBEBEB" stroke-width="1.07"/>
<text transform="translate(584.2 229.75) scale(1 1.12)" class="tk">0.000</text>
<text transform="translate(584.2 207.75) scale(1 1.12)" class="tk">0.025</text>
<text transform="translate(584.2 185.75) scale(1 1.12)" class="tk">0.050</text>
<text transform="translate(584.2 163.75) scale(1 1.12)" class="tk">0.075</text>
<text transform="translate(584.2 141.75) scale(1 1.12)" class="tk">0.100</text>
<rect x="589.95" y="156" width="6.28" height="70.6" fill="#E69F00" fill-opacity="0.45"/>
<rect x="597.01" y="155.2" width="6.28" height="71.4" fill="#E69F00"/>
<rect x="605.64" y="155.2" width="6.28" height="71.4" fill="#56B4E9" fill-opacity="0.45"/>
<rect x="612.7" y="155.2" width="6.28" height="71.4" fill="#56B4E9"/>
<rect x="621.33" y="146" width="6.28" height="80.6" fill="#009E73" fill-opacity="0.45"/>
<rect x="628.39" y="145" width="6.28" height="81.6" fill="#009E73"/>
<rect x="637.02" y="206" width="6.28" height="20.6" fill="#CC79A7" fill-opacity="0.45"/>
<rect x="644.08" y="157.2" width="6.28" height="69.4" fill="#CC79A7"/>
<rect x="656.24" y="165.6" width="6.28" height="61" fill="#0072B2"/>
<path d="M593.08 149V162.6M592.43 149H593.73M592.43 162.6H593.73" stroke="#333333" stroke-width="0.6" fill="none"/>
<path d="M600.14 148.2V162M599.34 148.2H600.94M599.34 162H600.94" stroke="#1A1A1A" stroke-width="1.0" fill="none"/>
<path d="M608.77 147.8V162M608.12 147.8H609.42M608.12 162H609.42" stroke="#333333" stroke-width="0.6" fill="none"/>
<path d="M615.83 147.8V162M615.03 147.8H616.63M615.03 162H616.63" stroke="#1A1A1A" stroke-width="1.0" fill="none"/>
<path d="M624.46 138.4V153.4M623.81 138.4H625.11M623.81 153.4H625.11" stroke="#333333" stroke-width="0.6" fill="none"/>
<path d="M631.52 137.4V152.6M630.72 137.4H632.32M630.72 152.6H632.32" stroke="#1A1A1A" stroke-width="1.0" fill="none"/>
<path d="M640.15 201.4V209.6M639.5 201.4H640.8M639.5 209.6H640.8" stroke="#333333" stroke-width="0.6" fill="none"/>
<path d="M647.21 150.4V164M646.41 150.4H648.01M646.41 164H648.01" stroke="#1A1A1A" stroke-width="1.0" fill="none"/>
<path d="M659.37 158.8V171.8M657.87 158.8H660.87M657.87 171.8H660.87" stroke="#1A1A1A" stroke-width="1.0" fill="none"/>
<line x1="587.2" y1="138.2" x2="668.8" y2="138.2" stroke="#404040" stroke-width="1.2" stroke-dasharray="2.58 2.54"/>
<text transform="translate(628 129.9) scale(1 1.12)" class="st">Height</text>
<text transform="translate(672.7 182.2) rotate(90)" class="rs">AA</text>
<line x1="37.2" y1="328.28" x2="118.8" y2="328.28" stroke="#EBEBEB" stroke-width="0.55"/>
<line x1="37.2" y1="297.64" x2="118.8" y2="297.64" stroke="#EBEBEB" stroke-width="0.55"/>
<line x1="37.2" y1="266.99" x2="118.8" y2="266.99" stroke="#EBEBEB" stroke-width="0.55"/>
<line x1="37.2" y1="343.6" x2="118.8" y2="343.6" stroke="#EBEBEB" stroke-width="1.07"/>
<line x1="37.2" y1="312.96" x2="118.8" y2="312.96" stroke="#EBEBEB" stroke-width="1.07"/>
<line x1="37.2" y1="282.31" x2="118.8" y2="282.31" stroke="#EBEBEB" stroke-width="1.07"/>
<line x1="37.2" y1="251.67" x2="118.8" y2="251.67" stroke="#EBEBEB" stroke-width="1.07"/>
<line x1="46.61" y1="250.4" x2="46.61" y2="348" stroke="#EBEBEB" stroke-width="1.07"/>
<line x1="62.3" y1="250.4" x2="62.3" y2="348" stroke="#EBEBEB" stroke-width="1.07"/>
<line x1="77.99" y1="250.4" x2="77.99" y2="348" stroke="#EBEBEB" stroke-width="1.07"/>
<line x1="93.68" y1="250.4" x2="93.68" y2="348" stroke="#EBEBEB" stroke-width="1.07"/>
<line x1="109.37" y1="250.4" x2="109.37" y2="348" stroke="#EBEBEB" stroke-width="1.07"/>
<text transform="translate(34.2 346.75) scale(1 1.12)" class="tk">0.000</text>
<text transform="translate(34.2 316.11) scale(1 1.12)" class="tk">0.020</text>
<text transform="translate(34.2 285.46) scale(1 1.12)" class="tk">0.040</text>
<text transform="translate(34.2 254.82) scale(1 1.12)" class="tk">0.060</text>
<rect x="39.95" y="279" width="6.28" height="64.6" fill="#E69F00" fill-opacity="0.45"/>
<rect x="47.01" y="277.2" width="6.28" height="66.4" fill="#E69F00"/>
<rect x="55.64" y="278.4" width="6.28" height="65.2" fill="#56B4E9" fill-opacity="0.45"/>
<rect x="62.7" y="277.2" width="6.28" height="66.4" fill="#56B4E9"/>
<rect x="71.33" y="269" width="6.28" height="74.6" fill="#009E73" fill-opacity="0.45"/>
<rect x="78.39" y="267" width="6.28" height="76.6" fill="#009E73"/>
<rect x="87.02" y="315.2" width="6.28" height="28.4" fill="#CC79A7" fill-opacity="0.45"/>
<rect x="94.08" y="271" width="6.28" height="72.6" fill="#CC79A7"/>
<rect x="106.24" y="275.6" width="6.28" height="68" fill="#0072B2"/>
<path d="M43.08 274V284M42.43 274H43.73M42.43 284H43.73" stroke="#333333" stroke-width="0.6" fill="none"/>
<path d="M50.14 272.4V282.4M49.34 272.4H50.94M49.34 282.4H50.94" stroke="#1A1A1A" stroke-width="1.0" fill="none"/>
<path d="M58.77 273.4V283.4M58.12 273.4H59.42M58.12 283.4H59.42" stroke="#333333" stroke-width="0.6" fill="none"/>
<path d="M65.83 272.4V282M65.03 272.4H66.63M65.03 282H66.63" stroke="#1A1A1A" stroke-width="1.0" fill="none"/>
<path d="M74.46 263.2V274M73.81 263.2H75.11M73.81 274H75.11" stroke="#333333" stroke-width="0.6" fill="none"/>
<path d="M81.52 262V272.4M80.72 262H82.32M80.72 272.4H82.32" stroke="#1A1A1A" stroke-width="1.0" fill="none"/>
<path d="M90.15 311.4V318.4M89.5 311.4H90.8M89.5 318.4H90.8" stroke="#333333" stroke-width="0.6" fill="none"/>
<path d="M97.21 266V276.4M96.41 266H98.01M96.41 276.4H98.01" stroke="#1A1A1A" stroke-width="1.0" fill="none"/>
<path d="M109.37 270.4V280.6M107.87 270.4H110.87M107.87 280.6H110.87" stroke="#1A1A1A" stroke-width="1.0" fill="none"/>
<line x1="37.2" y1="254.4" x2="118.8" y2="254.4" stroke="#404040" stroke-width="1.2" stroke-dasharray="2.58 2.54"/>
<text transform="translate(78 246.9) scale(1 1.12)" class="st">Average</text>
<line x1="147.2" y1="329.12" x2="228.8" y2="329.12" stroke="#EBEBEB" stroke-width="0.55"/>
<line x1="147.2" y1="300.16" x2="228.8" y2="300.16" stroke="#EBEBEB" stroke-width="0.55"/>
<line x1="147.2" y1="271.21" x2="228.8" y2="271.21" stroke="#EBEBEB" stroke-width="0.55"/>
<line x1="147.2" y1="343.6" x2="228.8" y2="343.6" stroke="#EBEBEB" stroke-width="1.07"/>
<line x1="147.2" y1="314.64" x2="228.8" y2="314.64" stroke="#EBEBEB" stroke-width="1.07"/>
<line x1="147.2" y1="285.69" x2="228.8" y2="285.69" stroke="#EBEBEB" stroke-width="1.07"/>
<line x1="147.2" y1="256.73" x2="228.8" y2="256.73" stroke="#EBEBEB" stroke-width="1.07"/>
<line x1="156.61" y1="250.4" x2="156.61" y2="348" stroke="#EBEBEB" stroke-width="1.07"/>
<line x1="172.3" y1="250.4" x2="172.3" y2="348" stroke="#EBEBEB" stroke-width="1.07"/>
<line x1="187.99" y1="250.4" x2="187.99" y2="348" stroke="#EBEBEB" stroke-width="1.07"/>
<line x1="203.68" y1="250.4" x2="203.68" y2="348" stroke="#EBEBEB" stroke-width="1.07"/>
<line x1="219.37" y1="250.4" x2="219.37" y2="348" stroke="#EBEBEB" stroke-width="1.07"/>
<text transform="translate(144.2 346.75) scale(1 1.12)" class="tk">0.000</text>
<text transform="translate(144.2 317.79) scale(1 1.12)" class="tk">0.020</text>
<text transform="translate(144.2 288.84) scale(1 1.12)" class="tk">0.040</text>
<text transform="translate(144.2 259.88) scale(1 1.12)" class="tk">0.060</text>
<rect x="149.95" y="266.4" width="6.28" height="77.2" fill="#E69F00" fill-opacity="0.45"/>
<rect x="157.01" y="265.6" width="6.28" height="78" fill="#E69F00"/>
<rect x="165.64" y="266" width="6.28" height="77.6" fill="#56B4E9" fill-opacity="0.45"/>
<rect x="172.7" y="265.6" width="6.28" height="78" fill="#56B4E9"/>
<rect x="181.33" y="266.4" width="6.28" height="77.2" fill="#009E73" fill-opacity="0.45"/>
<rect x="188.39" y="266" width="6.28" height="77.6" fill="#009E73"/>
<rect x="197.02" y="307.2" width="6.28" height="36.4" fill="#CC79A7" fill-opacity="0.45"/>
<rect x="204.08" y="279.2" width="6.28" height="64.4" fill="#CC79A7"/>
<rect x="216.24" y="282" width="6.28" height="61.6" fill="#0072B2"/>
<path d="M153.08 255.4V276.6M152.43 255.4H153.73M152.43 276.6H153.73" stroke="#333333" stroke-width="0.6" fill="none"/>
<path d="M160.14 254.4V275.6M159.34 254.4H160.94M159.34 275.6H160.94" stroke="#1A1A1A" stroke-width="1.0" fill="none"/>
<path d="M168.77 254.4V275.6M168.12 254.4H169.42M168.12 275.6H169.42" stroke="#333333" stroke-width="0.6" fill="none"/>
<path d="M175.83 254.4V275.6M175.03 254.4H176.63M175.03 275.6H176.63" stroke="#1A1A1A" stroke-width="1.0" fill="none"/>
<path d="M184.46 255.4V276.6M183.81 255.4H185.11M183.81 276.6H185.11" stroke="#333333" stroke-width="0.6" fill="none"/>
<path d="M191.52 255V275.6M190.72 255H192.32M190.72 275.6H192.32" stroke="#1A1A1A" stroke-width="1.0" fill="none"/>
<path d="M200.15 299.6V314M199.5 299.6H200.8M199.5 314H200.8" stroke="#333333" stroke-width="0.6" fill="none"/>
<path d="M207.21 269.2V288.8M206.41 269.2H208.01M206.41 288.8H208.01" stroke="#1A1A1A" stroke-width="1.0" fill="none"/>
<path d="M219.37 272.4V291.2M217.87 272.4H220.87M217.87 291.2H220.87" stroke="#1A1A1A" stroke-width="1.0" fill="none"/>
<line x1="147.2" y1="263" x2="228.8" y2="263" stroke="#404040" stroke-width="1.2" stroke-dasharray="2.58 2.54"/>
<text transform="translate(188 246.9) scale(1 1.12)" class="st">WHR</text>
<line x1="257.2" y1="333.5" x2="338.8" y2="333.5" stroke="#EBEBEB" stroke-width="0.55"/>
<line x1="257.2" y1="313.3" x2="338.8" y2="313.3" stroke="#EBEBEB" stroke-width="0.55"/>
<line x1="257.2" y1="293.1" x2="338.8" y2="293.1" stroke="#EBEBEB" stroke-width="0.55"/>
<line x1="257.2" y1="272.9" x2="338.8" y2="272.9" stroke="#EBEBEB" stroke-width="0.55"/>
<line x1="257.2" y1="252.7" x2="338.8" y2="252.7" stroke="#EBEBEB" stroke-width="0.55"/>
<line x1="257.2" y1="343.6" x2="338.8" y2="343.6" stroke="#EBEBEB" stroke-width="1.07"/>
<line x1="257.2" y1="323.4" x2="338.8" y2="323.4" stroke="#EBEBEB" stroke-width="1.07"/>
<line x1="257.2" y1="303.2" x2="338.8" y2="303.2" stroke="#EBEBEB" stroke-width="1.07"/>
<line x1="257.2" y1="283" x2="338.8" y2="283" stroke="#EBEBEB" stroke-width="1.07"/>
<line x1="257.2" y1="262.8" x2="338.8" y2="262.8" stroke="#EBEBEB" stroke-width="1.07"/>
<line x1="266.61" y1="250.4" x2="266.61" y2="348" stroke="#EBEBEB" stroke-width="1.07"/>
<line x1="282.3" y1="250.4" x2="282.3" y2="348" stroke="#EBEBEB" stroke-width="1.07"/>
<line x1="297.99" y1="250.4" x2="297.99" y2="348" stroke="#EBEBEB" stroke-width="1.07"/>
<line x1="313.68" y1="250.4" x2="313.68" y2="348" stroke="#EBEBEB" stroke-width="1.07"/>
<line x1="329.37" y1="250.4" x2="329.37" y2="348" stroke="#EBEBEB" stroke-width="1.07"/>
<text transform="translate(254.2 346.75) scale(1 1.12)" class="tk">0.000</text>
<text transform="translate(254.2 326.55) scale(1 1.12)" class="tk">0.010</text>
<text transform="translate(254.2 306.35) scale(1 1.12)" class="tk">0.020</text>
<text transform="translate(254.2 286.15) scale(1 1.12)" class="tk">0.030</text>
<text transform="translate(254.2 265.95) scale(1 1.12)" class="tk">0.040</text>
<rect x="259.95" y="273.4" width="6.28" height="70.2" fill="#E69F00" fill-opacity="0.45"/>
<rect x="267.01" y="272.4" width="6.28" height="71.2" fill="#E69F00"/>
<rect x="275.64" y="273" width="6.28" height="70.6" fill="#56B4E9" fill-opacity="0.45"/>
<rect x="282.7" y="272.8" width="6.28" height="70.8" fill="#56B4E9"/>
<rect x="291.33" y="266.8" width="6.28" height="76.8" fill="#009E73" fill-opacity="0.45"/>
<rect x="298.39" y="267.2" width="6.28" height="76.4" fill="#009E73"/>
<rect x="307.02" y="289.2" width="6.28" height="54.4" fill="#CC79A7" fill-opacity="0.45"/>
<rect x="314.08" y="268.2" width="6.28" height="75.4" fill="#CC79A7"/>
<rect x="326.24" y="269.6" width="6.28" height="74" fill="#0072B2"/>
<path d="M263.08 262.4V284.4M262.43 262.4H263.73M262.43 284.4H263.73" stroke="#333333" stroke-width="0.6" fill="none"/>
<path d="M270.14 261.2V283.6M269.34 261.2H270.94M269.34 283.6H270.94" stroke="#1A1A1A" stroke-width="1.0" fill="none"/>
<path d="M278.77 261.6V284M278.12 261.6H279.42M278.12 284H279.42" stroke="#333333" stroke-width="0.6" fill="none"/>
<path d="M285.83 261.4V283.6M285.03 261.4H286.63M285.03 283.6H286.63" stroke="#1A1A1A" stroke-width="1.0" fill="none"/>
<path d="M294.46 254.4V277.6M293.81 254.4H295.11M293.81 277.6H295.11" stroke="#333333" stroke-width="0.6" fill="none"/>
<path d="M301.52 255.4V278.6M300.72 255.4H302.32M300.72 278.6H302.32" stroke="#1A1A1A" stroke-width="1.0" fill="none"/>
<path d="M310.15 279V298.4M309.5 279H310.8M309.5 298.4H310.8" stroke="#333333" stroke-width="0.6" fill="none"/>
<path d="M317.21 256.4V279.4M316.41 256.4H318.01M316.41 279.4H318.01" stroke="#1A1A1A" stroke-width="1.0" fill="none"/>
<path d="M329.37 258.4V280.2M327.87 258.4H330.87M327.87 280.2H330.87" stroke="#1A1A1A" stroke-width="1.0" fill="none"/>
<line x1="257.2" y1="286.2" x2="338.8" y2="286.2" stroke="#404040" stroke-width="1.2" stroke-dasharray="2.58 2.54"/>
<text transform="translate(298 246.9) scale(1 1.12)" class="st">DBP</text>
<line x1="367.2" y1="329.84" x2="448.8" y2="329.84" stroke="#EBEBEB" stroke-width="0.55"/>
<line x1="367.2" y1="302.33" x2="448.8" y2="302.33" stroke="#EBEBEB" stroke-width="0.55"/>
<line x1="367.2" y1="274.81" x2="448.8" y2="274.81" stroke="#EBEBEB" stroke-width="0.55"/>
<line x1="367.2" y1="343.6" x2="448.8" y2="343.6" stroke="#EBEBEB" stroke-width="1.07"/>
<line x1="367.2" y1="316.09" x2="448.8" y2="316.09" stroke="#EBEBEB" stroke-width="1.07"/>
<line x1="367.2" y1="288.57" x2="448.8" y2="288.57" stroke="#EBEBEB" stroke-width="1.07"/>
<line x1="367.2" y1="261.06" x2="448.8" y2="261.06" stroke="#EBEBEB" stroke-width="1.07"/>
<line x1="376.61" y1="250.4" x2="376.61" y2="348" stroke="#EBEBEB" stroke-width="1.07"/>
<line x1="392.3" y1="250.4" x2="392.3" y2="348" stroke="#EBEBEB" stroke-width="1.07"/>
<line x1="407.99" y1="250.4" x2="407.99" y2="348" stroke="#EBEBEB" stroke-width="1.07"/>
<line x1="423.68" y1="250.4" x2="423.68" y2="348" stroke="#EBEBEB" stroke-width="1.07"/>
<line x1="439.37" y1="250.4" x2="439.37" y2="348" stroke="#EBEBEB" stroke-width="1.07"/>
<text transform="translate(364.2 346.75) scale(1 1.12)" class="tk">0.000</text>
<text transform="translate(364.2 319.24) scale(1 1.12)" class="tk">0.010</text>
<text transform="translate(364.2 291.72) scale(1 1.12)" class="tk">0.020</text>
<text transform="translate(364.2 264.21) scale(1 1.12)" class="tk">0.030</text>
<rect x="369.95" y="272.2" width="6.28" height="71.4" fill="#E69F00" fill-opacity="0.45"/>
<rect x="377.01" y="273.2" width="6.28" height="70.4" fill="#E69F00"/>
<rect x="385.64" y="274" width="6.28" height="69.6" fill="#56B4E9" fill-opacity="0.45"/>
<rect x="392.7" y="273.2" width="6.28" height="70.4" fill="#56B4E9"/>
<rect x="401.33" y="270.6" width="6.28" height="73" fill="#009E73" fill-opacity="0.45"/>
<rect x="408.39" y="270" width="6.28" height="73.6" fill="#009E73"/>
<rect x="417.02" y="312.4" width="6.28" height="31.2" fill="#CC79A7" fill-opacity="0.45"/>
<rect x="424.08" y="268.8" width="6.28" height="74.8" fill="#CC79A7"/>
<rect x="436.24" y="270" width="6.28" height="73.6" fill="#0072B2"/>
<path d="M373.08 258.4V284.6M372.43 258.4H373.73M372.43 284.6H373.73" stroke="#333333" stroke-width="0.6" fill="none"/>
<path d="M380.14 259.4V285.6M379.34 259.4H380.94M379.34 285.6H380.94" stroke="#1A1A1A" stroke-width="1.0" fill="none"/>
<path d="M388.77 260.4V286.4M388.12 260.4H389.42M388.12 286.4H389.42" stroke="#333333" stroke-width="0.6" fill="none"/>
<path d="M395.83 260V285.6M395.03 260H396.63M395.03 285.6H396.63" stroke="#1A1A1A" stroke-width="1.0" fill="none"/>
<path d="M404.46 257.2V283.6M403.81 257.2H405.11M403.81 283.6H405.11" stroke="#333333" stroke-width="0.6" fill="none"/>
<path d="M411.52 256.4V282.6M410.72 256.4H412.32M410.72 282.6H412.32" stroke="#1A1A1A" stroke-width="1.0" fill="none"/>
<path d="M420.15 303.2V320.4M419.5 303.2H420.8M419.5 320.4H420.8" stroke="#333333" stroke-width="0.6" fill="none"/>
<path d="M427.21 254.4V281.4M426.41 254.4H428.01M426.41 281.4H428.01" stroke="#1A1A1A" stroke-width="1.0" fill="none"/>
<path d="M439.37 255.6V282.4M437.87 255.6H440.87M437.87 282.4H440.87" stroke="#1A1A1A" stroke-width="1.0" fill="none"/>
<line x1="367.2" y1="269.6" x2="448.8" y2="269.6" stroke="#404040" stroke-width="1.2" stroke-dasharray="2.58 2.54"/>
<text transform="translate(408 246.9) scale(1 1.12)" class="st">SBP</text>
<line x1="477.2" y1="333.32" x2="558.8" y2="333.32" stroke="#EBEBEB" stroke-width="0.55"/>
<line x1="477.2" y1="312.77" x2="558.8" y2="312.77" stroke="#EBEBEB" stroke-width="0.55"/>
<line x1="477.2" y1="292.22" x2="558.8" y2="292.22" stroke="#EBEBEB" stroke-width="0.55"/>
<line x1="477.2" y1="271.66" x2="558.8" y2="271.66" stroke="#EBEBEB" stroke-width="0.55"/>
<line x1="477.2" y1="251.11" x2="558.8" y2="251.11" stroke="#EBEBEB" stroke-width="0.55"/>
<line x1="477.2" y1="343.6" x2="558.8" y2="343.6" stroke="#EBEBEB" stroke-width="1.07"/>
<line x1="477.2" y1="323.05" x2="558.8" y2="323.05" stroke="#EBEBEB" stroke-width="1.07"/>
<line x1="477.2" y1="302.49" x2="558.8" y2="302.49" stroke="#EBEBEB" stroke-width="1.07"/>
<line x1="477.2" y1="281.94" x2="558.8" y2="281.94" stroke="#EBEBEB" stroke-width="1.07"/>
<line x1="477.2" y1="261.39" x2="558.8" y2="261.39" stroke="#EBEBEB" stroke-width="1.07"/>
<line x1="486.61" y1="250.4" x2="486.61" y2="348" stroke="#EBEBEB" stroke-width="1.07"/>
<line x1="502.3" y1="250.4" x2="502.3" y2="348" stroke="#EBEBEB" stroke-width="1.07"/>
<line x1="517.99" y1="250.4" x2="517.99" y2="348" stroke="#EBEBEB" stroke-width="1.07"/>
<line x1="533.68" y1="250.4" x2="533.68" y2="348" stroke="#EBEBEB" stroke-width="1.07"/>
<line x1="549.37" y1="250.4" x2="549.37" y2="348" stroke="#EBEBEB" stroke-width="1.07"/>
<text transform="translate(474.2 346.75) scale(1 1.12)" class="tk">0.000</text>
<text transform="translate(474.2 326.2) scale(1 1.12)" class="tk">0.010</text>
<text transform="translate(474.2 305.64) scale(1 1.12)" class="tk">0.020</text>
<text transform="translate(474.2 285.09) scale(1 1.12)" class="tk">0.030</text>
<text transform="translate(474.2 264.54) scale(1 1.12)" class="tk">0.040</text>
<rect x="479.95" y="311.2" width="6.28" height="32.4" fill="#E69F00" fill-opacity="0.45"/>
<rect x="487.01" y="309" width="6.28" height="34.6" fill="#E69F00"/>
<rect x="495.64" y="309" width="6.28" height="34.6" fill="#56B4E9" fill-opacity="0.45"/>
<rect x="502.7" y="309" width="6.28" height="34.6" fill="#56B4E9"/>
<rect x="511.33" y="307.2" width="6.28" height="36.4" fill="#009E73" fill-opacity="0.45"/>
<rect x="518.39" y="307.2" width="6.28" height="36.4" fill="#009E73"/>
<rect x="527.02" y="341" width="6.28" height="2.6" fill="#CC79A7" fill-opacity="0.45"/>
<rect x="534.08" y="303.2" width="6.28" height="40.4" fill="#CC79A7"/>
<rect x="546.24" y="310.4" width="6.28" height="33.2" fill="#0072B2"/>
<path d="M483.08 300V320.4M482.43 300H483.73M482.43 320.4H483.73" stroke="#333333" stroke-width="0.6" fill="none"/>
<path d="M490.14 297.6V318.4M489.34 297.6H490.94M489.34 318.4H490.94" stroke="#1A1A1A" stroke-width="1.0" fill="none"/>
<path d="M498.77 297.6V318.4M498.12 297.6H499.42M498.12 318.4H499.42" stroke="#333333" stroke-width="0.6" fill="none"/>
<path d="M505.83 298V318.8M505.03 298H506.63M505.03 318.8H506.63" stroke="#1A1A1A" stroke-width="1.0" fill="none"/>
<path d="M514.46 295.4V317.6M513.81 295.4H515.11M513.81 317.6H515.11" stroke="#333333" stroke-width="0.6" fill="none"/>
<path d="M521.52 295.4V317.4M520.72 295.4H522.32M520.72 317.4H522.32" stroke="#1A1A1A" stroke-width="1.0" fill="none"/>
<path d="M530.15 337.2V343.6M529.5 337.2H530.8M529.5 343.6H530.8" stroke="#333333" stroke-width="0.6" fill="none"/>
<path d="M537.21 291.2V313.6M536.41 291.2H538.01M536.41 313.6H538.01" stroke="#1A1A1A" stroke-width="1.0" fill="none"/>
<path d="M549.37 299.4V319.6M547.87 299.4H550.87M547.87 319.6H550.87" stroke="#1A1A1A" stroke-width="1.0" fill="none"/>
<line x1="477.2" y1="254.4" x2="558.8" y2="254.4" stroke="#404040" stroke-width="1.2" stroke-dasharray="2.58 2.54"/>
<text transform="translate(518 246.9) scale(1 1.12)" class="st">Creatinine</text>
<line x1="587.2" y1="334.53" x2="668.8" y2="334.53" stroke="#EBEBEB" stroke-width="0.55"/>
<line x1="587.2" y1="316.4" x2="668.8" y2="316.4" stroke="#EBEBEB" stroke-width="0.55"/>
<line x1="587.2" y1="298.26" x2="668.8" y2="298.26" stroke="#EBEBEB" stroke-width="0.55"/>
<line x1="587.2" y1="280.13" x2="668.8" y2="280.13" stroke="#EBEBEB" stroke-width="0.55"/>
<line x1="587.2" y1="261.99" x2="668.8" y2="261.99" stroke="#EBEBEB" stroke-width="0.55"/>
<line x1="587.2" y1="343.6" x2="668.8" y2="343.6" stroke="#EBEBEB" stroke-width="1.07"/>
<line x1="587.2" y1="325.47" x2="668.8" y2="325.47" stroke="#EBEBEB" stroke-width="1.07"/>
<line x1="587.2" y1="307.33" x2="668.8" y2="307.33" stroke="#EBEBEB" stroke-width="1.07"/>
<line x1="587.2" y1="289.2" x2="668.8" y2="289.2" stroke="#EBEBEB" stroke-width="1.07"/>
<line x1="587.2" y1="271.06" x2="668.8" y2="271.06" stroke="#EBEBEB" stroke-width="1.07"/>
<line x1="587.2" y1="252.93" x2="668.8" y2="252.93" stroke="#EBEBEB" stroke-width="1.07"/>
<line x1="596.61" y1="250.4" x2="596.61" y2="348" stroke="#EBEBEB" stroke-width="1.07"/>
<line x1="612.3" y1="250.4" x2="612.3" y2="348" stroke="#EBEBEB" stroke-width="1.07"/>
<line x1="627.99" y1="250.4" x2="627.99" y2="348" stroke="#EBEBEB" stroke-width="1.07"/>
<line x1="643.68" y1="250.4" x2="643.68" y2="348" stroke="#EBEBEB" stroke-width="1.07"/>
<line x1="659.37" y1="250.4" x2="659.37" y2="348" stroke="#EBEBEB" stroke-width="1.07"/>
<text transform="translate(584.2 346.75) scale(1 1.12)" class="tk">0.000</text>
<text transform="translate(584.2 328.62) scale(1 1.12)" class="tk">0.005</text>
<text transform="translate(584.2 310.48) scale(1 1.12)" class="tk">0.010</text>
<text transform="translate(584.2 292.35) scale(1 1.12)" class="tk">0.015</text>
<text transform="translate(584.2 274.21) scale(1 1.12)" class="tk">0.020</text>
<text transform="translate(584.2 256.08) scale(1 1.12)" class="tk">0.025</text>
<rect x="589.95" y="308" width="6.28" height="35.6" fill="#E69F00" fill-opacity="0.45"/>
<rect x="597.01" y="306.4" width="6.28" height="37.2" fill="#E69F00"/>
<rect x="605.64" y="313.6" width="6.28" height="30" fill="#56B4E9" fill-opacity="0.45"/>
<rect x="612.7" y="302.8" width="6.28" height="40.8" fill="#56B4E9"/>
<rect x="621.33" y="301" width="6.28" height="42.6" fill="#009E73" fill-opacity="0.45"/>
<rect x="628.39" y="305.6" width="6.28" height="38" fill="#009E73"/>
<rect x="637.02" y="320" width="6.28" height="23.6" fill="#CC79A7" fill-opacity="0.45"/>
<rect x="644.08" y="322" width="6.28" height="21.6" fill="#CC79A7"/>
<rect x="656.24" y="325" width="6.28" height="18.6" fill="#0072B2"/>
<path d="M593.08 265.6V334.4M592.43 265.6H593.73M592.43 334.4H593.73" stroke="#333333" stroke-width="0.6" fill="none"/>
<path d="M600.14 262.8V333.6M599.34 262.8H600.94M599.34 333.6H600.94" stroke="#1A1A1A" stroke-width="1.0" fill="none"/>
<path d="M608.77 273.2V336.6M608.12 273.2H609.42M608.12 336.6H609.42" stroke="#333333" stroke-width="0.6" fill="none"/>
<path d="M615.83 257.4V331.6M615.03 257.4H616.63M615.03 331.6H616.63" stroke="#1A1A1A" stroke-width="1.0" fill="none"/>
<path d="M624.46 254.4V330.4M623.81 254.4H625.11M623.81 330.4H625.11" stroke="#333333" stroke-width="0.6" fill="none"/>
<path d="M631.52 261.4V332.8M630.72 261.4H632.32M630.72 332.8H632.32" stroke="#1A1A1A" stroke-width="1.0" fill="none"/>
<path d="M640.15 283.2V339.6M639.5 283.2H640.8M639.5 339.6H640.8" stroke="#333333" stroke-width="0.6" fill="none"/>
<path d="M647.21 286.4V340.6M646.41 286.4H648.01M646.41 340.6H648.01" stroke="#1A1A1A" stroke-width="1.0" fill="none"/>
<path d="M659.37 291.6V341.6M657.87 291.6H660.87M657.87 341.6H660.87" stroke="#1A1A1A" stroke-width="1.0" fill="none"/>
<line x1="587.2" y1="259.4" x2="668.8" y2="259.4" stroke="#404040" stroke-width="1.2" stroke-dasharray="2.58 2.54"/>
<text transform="translate(628 246.9) scale(1 1.12)" class="st">Urate</text>
<text transform="translate(672.7 299.2) rotate(90)" class="rs">Hispanic</text>
<line x1="37.2" y1="455.26" x2="118.8" y2="455.26" stroke="#EBEBEB" stroke-width="0.55"/>
<line x1="37.2" y1="431.37" x2="118.8" y2="431.37" stroke="#EBEBEB" stroke-width="0.55"/>
<line x1="37.2" y1="407.48" x2="118.8" y2="407.48" stroke="#EBEBEB" stroke-width="0.55"/>
<line x1="37.2" y1="383.6" x2="118.8" y2="383.6" stroke="#EBEBEB" stroke-width="0.55"/>
<line x1="37.2" y1="467.2" x2="118.8" y2="467.2" stroke="#EBEBEB" stroke-width="1.07"/>
<line x1="37.2" y1="443.31" x2="118.8" y2="443.31" stroke="#EBEBEB" stroke-width="1.07"/>
<line x1="37.2" y1="419.43" x2="118.8" y2="419.43" stroke="#EBEBEB" stroke-width="1.07"/>
<line x1="37.2" y1="395.54" x2="118.8" y2="395.54" stroke="#EBEBEB" stroke-width="1.07"/>
<line x1="37.2" y1="371.65" x2="118.8" y2="371.65" stroke="#EBEBEB" stroke-width="1.07"/>
<line x1="46.61" y1="367.2" x2="46.61" y2="472" stroke="#EBEBEB" stroke-width="1.07"/>
<line x1="62.3" y1="367.2" x2="62.3" y2="472" stroke="#EBEBEB" stroke-width="1.07"/>
<line x1="77.99" y1="367.2" x2="77.99" y2="472" stroke="#EBEBEB" stroke-width="1.07"/>
<line x1="93.68" y1="367.2" x2="93.68" y2="472" stroke="#EBEBEB" stroke-width="1.07"/>
<line x1="109.37" y1="367.2" x2="109.37" y2="472" stroke="#EBEBEB" stroke-width="1.07"/>
<text transform="translate(34.2 470.35) scale(1 1.12)" class="tk">0.000</text>
<text transform="translate(34.2 446.46) scale(1 1.12)" class="tk">0.020</text>
<text transform="translate(34.2 422.58) scale(1 1.12)" class="tk">0.040</text>
<text transform="translate(34.2 398.69) scale(1 1.12)" class="tk">0.060</text>
<text transform="translate(34.2 374.8) scale(1 1.12)" class="tk">0.080</text>
<rect x="39.95" y="394" width="6.28" height="73.2" fill="#E69F00" fill-opacity="0.45"/>
<rect x="47.01" y="388.4" width="6.28" height="78.8" fill="#E69F00"/>
<rect x="55.64" y="388.4" width="6.28" height="78.8" fill="#56B4E9" fill-opacity="0.45"/>
<rect x="62.7" y="388.8" width="6.28" height="78.4" fill="#56B4E9"/>
<rect x="71.33" y="387.4" width="6.28" height="79.8" fill="#009E73" fill-opacity="0.45"/>
<rect x="78.39" y="387.6" width="6.28" height="79.6" fill="#009E73"/>
<rect x="87.02" y="435.2" width="6.28" height="32" fill="#CC79A7" fill-opacity="0.45"/>
<rect x="94.08" y="381.6" width="6.28" height="85.6" fill="#CC79A7"/>
<rect x="106.24" y="385" width="6.28" height="82.2" fill="#0072B2"/>
<path d="M43.08 385V404M42.43 385H43.73M42.43 404H43.73" stroke="#333333" stroke-width="0.6" fill="none"/>
<path d="M50.14 379.4V397.6M49.34 379.4H50.94M49.34 397.6H50.94" stroke="#1A1A1A" stroke-width="1.0" fill="none"/>
<path d="M58.77 379.4V397M58.12 379.4H59.42M58.12 397H59.42" stroke="#333333" stroke-width="0.6" fill="none"/>
<path d="M65.83 379.4V397.6M65.03 379.4H66.63M65.03 397.6H66.63" stroke="#1A1A1A" stroke-width="1.0" fill="none"/>
<path d="M74.46 378.4V396M73.81 378.4H75.11M73.81 396H75.11" stroke="#333333" stroke-width="0.6" fill="none"/>
<path d="M81.52 378.4V396M80.72 378.4H82.32M80.72 396H82.32" stroke="#1A1A1A" stroke-width="1.0" fill="none"/>
<path d="M90.15 429.2V440.8M89.5 429.2H90.8M89.5 440.8H90.8" stroke="#333333" stroke-width="0.6" fill="none"/>
<path d="M97.21 372.4V390.6M96.41 372.4H98.01M96.41 390.6H98.01" stroke="#1A1A1A" stroke-width="1.0" fill="none"/>
<path d="M109.37 375.6V393.6M107.87 375.6H110.87M107.87 393.6H110.87" stroke="#1A1A1A" stroke-width="1.0" fill="none"/>
<line x1="37.2" y1="404" x2="118.8" y2="404" stroke="#404040" stroke-width="1.2" stroke-dasharray="2.58 2.54"/>
<text transform="translate(78 363.7) scale(1 1.12)" class="st">BMI</text>
<line x1="147.2" y1="456" x2="228.8" y2="456" stroke="#EBEBEB" stroke-width="0.55"/>
<line x1="147.2" y1="433.6" x2="228.8" y2="433.6" stroke="#EBEBEB" stroke-width="0.55"/>
<line x1="147.2" y1="411.2" x2="228.8" y2="411.2" stroke="#EBEBEB" stroke-width="0.55"/>
<line x1="147.2" y1="388.8" x2="228.8" y2="388.8" stroke="#EBEBEB" stroke-width="0.55"/>
<line x1="147.2" y1="467.2" x2="228.8" y2="467.2" stroke="#EBEBEB" stroke-width="1.07"/>
<line x1="147.2" y1="444.8" x2="228.8" y2="444.8" stroke="#EBEBEB" stroke-width="1.07"/>
<line x1="147.2" y1="422.4" x2="228.8" y2="422.4" stroke="#EBEBEB" stroke-width="1.07"/>
<line x1="147.2" y1="400" x2="228.8" y2="400" stroke="#EBEBEB" stroke-width="1.07"/>
<line x1="147.2" y1="377.6" x2="228.8" y2="377.6" stroke="#EBEBEB" stroke-width="1.07"/>
<line x1="156.61" y1="367.2" x2="156.61" y2="472" stroke="#EBEBEB" stroke-width="1.07"/>
<line x1="172.3" y1="367.2" x2="172.3" y2="472" stroke="#EBEBEB" stroke-width="1.07"/>
<line x1="187.99" y1="367.2" x2="187.99" y2="472" stroke="#EBEBEB" stroke-width="1.07"/>
<line x1="203.68" y1="367.2" x2="203.68" y2="472" stroke="#EBEBEB" stroke-width="1.07"/>
<line x1="219.37" y1="367.2" x2="219.37" y2="472" stroke="#EBEBEB" stroke-width="1.07"/>
<text transform="translate(144.2 470.35) scale(1 1.12)" class="tk">0.000</text>
<text transform="translate(144.2 447.95) scale(1 1.12)" class="tk">0.020</text>
<text transform="translate(144.2 425.55) scale(1 1.12)" class="tk">0.040</text>
<text transform="translate(144.2 403.15) scale(1 1.12)" class="tk">0.060</text>
<text transform="translate(144.2 380.75) scale(1 1.12)" class="tk">0.080</text>
<rect x="149.95" y="398.4" width="6.28" height="68.8" fill="#E69F00" fill-opacity="0.45"/>
<rect x="157.01" y="399" width="6.28" height="68.2" fill="#E69F00"/>
<rect x="165.64" y="400" width="6.28" height="67.2" fill="#56B4E9" fill-opacity="0.45"/>
<rect x="172.7" y="399" width="6.28" height="68.2" fill="#56B4E9"/>
<rect x="181.33" y="390" width="6.28" height="77.2" fill="#009E73" fill-opacity="0.45"/>
<rect x="188.39" y="388.6" width="6.28" height="78.6" fill="#009E73"/>
<rect x="197.02" y="432.2" width="6.28" height="35" fill="#CC79A7" fill-opacity="0.45"/>
<rect x="204.08" y="387.4" width="6.28" height="79.8" fill="#CC79A7"/>
<rect x="216.24" y="387.4" width="6.28" height="79.8" fill="#0072B2"/>
<path d="M153.08 384.4V411.6M152.43 384.4H153.73M152.43 411.6H153.73" stroke="#333333" stroke-width="0.6" fill="none"/>
<path d="M160.14 384.4V412M159.34 384.4H160.94M159.34 412H160.94" stroke="#1A1A1A" stroke-width="1.0" fill="none"/>
<path d="M168.77 385.4V412.8M168.12 385.4H169.42M168.12 412.8H169.42" stroke="#333333" stroke-width="0.6" fill="none"/>
<path d="M175.83 384.4V411.6M175.03 384.4H176.63M175.03 411.6H176.63" stroke="#1A1A1A" stroke-width="1.0" fill="none"/>
<path d="M184.46 374.4V404M183.81 374.4H185.11M183.81 404H185.11" stroke="#333333" stroke-width="0.6" fill="none"/>
<path d="M191.52 373.4V402.6M190.72 373.4H192.32M190.72 402.6H192.32" stroke="#1A1A1A" stroke-width="1.0" fill="none"/>
<path d="M200.15 421.2V441.6M199.5 421.2H200.8M199.5 441.6H200.8" stroke="#333333" stroke-width="0.6" fill="none"/>
<path d="M207.21 372V401.4M206.41 372H208.01M206.41 401.4H208.01" stroke="#1A1A1A" stroke-width="1.0" fill="none"/>
<path d="M219.37 372V401.4M217.87 372H220.87M217.87 401.4H220.87" stroke="#1A1A1A" stroke-width="1.0" fill="none"/>
<line x1="147.2" y1="374.4" x2="228.8" y2="374.4" stroke="#404040" stroke-width="1.2" stroke-dasharray="2.58 2.54"/>
<text transform="translate(188 363.7) scale(1 1.12)" class="st">Triglycerides</text>
<line x1="257.2" y1="458.18" x2="338.8" y2="458.18" stroke="#EBEBEB" stroke-width="0.55"/>
<line x1="257.2" y1="440.13" x2="338.8" y2="440.13" stroke="#EBEBEB" stroke-width="0.55"/>
<line x1="257.2" y1="422.09" x2="338.8" y2="422.09" stroke="#EBEBEB" stroke-width="0.55"/>
<line x1="257.2" y1="404.05" x2="338.8" y2="404.05" stroke="#EBEBEB" stroke-width="0.55"/>
<line x1="257.2" y1="386" x2="338.8" y2="386" stroke="#EBEBEB" stroke-width="0.55"/>
<line x1="257.2" y1="367.96" x2="338.8" y2="367.96" stroke="#EBEBEB" stroke-width="0.55"/>
<line x1="257.2" y1="467.2" x2="338.8" y2="467.2" stroke="#EBEBEB" stroke-width="1.07"/>
<line x1="257.2" y1="449.16" x2="338.8" y2="449.16" stroke="#EBEBEB" stroke-width="1.07"/>
<line x1="257.2" y1="431.11" x2="338.8" y2="431.11" stroke="#EBEBEB" stroke-width="1.07"/>
<line x1="257.2" y1="413.07" x2="338.8" y2="413.07" stroke="#EBEBEB" stroke-width="1.07"/>
<line x1="257.2" y1="395.03" x2="338.8" y2="395.03" stroke="#EBEBEB" stroke-width="1.07"/>
<line x1="257.2" y1="376.98" x2="338.8" y2="376.98" stroke="#EBEBEB" stroke-width="1.07"/>
<line x1="266.61" y1="367.2" x2="266.61" y2="472" stroke="#EBEBEB" stroke-width="1.07"/>
<line x1="282.3" y1="367.2" x2="282.3" y2="472" stroke="#EBEBEB" stroke-width="1.07"/>
<line x1="297.99" y1="367.2" x2="297.99" y2="472" stroke="#EBEBEB" stroke-width="1.07"/>
<line x1="313.68" y1="367.2" x2="313.68" y2="472" stroke="#EBEBEB" stroke-width="1.07"/>
<line x1="329.37" y1="367.2" x2="329.37" y2="472" stroke="#EBEBEB" stroke-width="1.07"/>
<text transform="translate(254.2 470.35) scale(1 1.12)" class="tk">0.000</text>
<text transform="translate(254.2 452.31) scale(1 1.12)" class="tk">0.010</text>
<text transform="translate(254.2 434.26) scale(1 1.12)" class="tk">0.020</text>
<text transform="translate(254.2 416.22) scale(1 1.12)" class="tk">0.030</text>
<text transform="translate(254.2 398.18) scale(1 1.12)" class="tk">0.040</text>
<text transform="translate(254.2 380.13) scale(1 1.12)" class="tk">0.050</text>
<rect x="259.95" y="423.2" width="6.28" height="44" fill="#E69F00" fill-opacity="0.45"/>
<rect x="267.01" y="421.2" width="6.28" height="46" fill="#E69F00"/>
<rect x="275.64" y="422" width="6.28" height="45.2" fill="#56B4E9" fill-opacity="0.45"/>
<rect x="282.7" y="421.2" width="6.28" height="46" fill="#56B4E9"/>
<rect x="291.33" y="408" width="6.28" height="59.2" fill="#009E73" fill-opacity="0.45"/>
<rect x="298.39" y="403" width="6.28" height="64.2" fill="#009E73"/>
<rect x="307.02" y="436.2" width="6.28" height="31" fill="#CC79A7" fill-opacity="0.45"/>
<rect x="314.08" y="399.2" width="6.28" height="68" fill="#CC79A7"/>
<rect x="326.24" y="397.2" width="6.28" height="70" fill="#0072B2"/>
<path d="M263.08 402.6V440M262.43 402.6H263.73M262.43 440H263.73" stroke="#333333" stroke-width="0.6" fill="none"/>
<path d="M270.14 400.4V438.6M269.34 400.4H270.94M269.34 438.6H270.94" stroke="#1A1A1A" stroke-width="1.0" fill="none"/>
<path d="M278.77 401.2V438.8M278.12 401.2H279.42M278.12 438.8H279.42" stroke="#333333" stroke-width="0.6" fill="none"/>
<path d="M285.83 400.4V438.6M285.03 400.4H286.63M285.03 438.6H286.63" stroke="#1A1A1A" stroke-width="1.0" fill="none"/>
<path d="M294.46 384.4V427.6M293.81 384.4H295.11M293.81 427.6H295.11" stroke="#333333" stroke-width="0.6" fill="none"/>
<path d="M301.52 378.4V423.4M300.72 378.4H302.32M300.72 423.4H302.32" stroke="#1A1A1A" stroke-width="1.0" fill="none"/>
<path d="M310.15 418.2V449.6M309.5 418.2H310.8M309.5 449.6H310.8" stroke="#333333" stroke-width="0.6" fill="none"/>
<path d="M317.21 374.4V420.4M316.41 374.4H318.01M316.41 420.4H318.01" stroke="#1A1A1A" stroke-width="1.0" fill="none"/>
<path d="M329.37 372.2V418.4M327.87 372.2H330.87M327.87 418.4H330.87" stroke="#1A1A1A" stroke-width="1.0" fill="none"/>
<line x1="257.2" y1="393" x2="338.8" y2="393" stroke="#404040" stroke-width="1.2" stroke-dasharray="2.58 2.54"/>
<text transform="translate(298 363.7) scale(1 1.12)" class="st">LDL</text>
<line x1="367.2" y1="449" x2="448.8" y2="449" stroke="#EBEBEB" stroke-width="0.55"/>
<line x1="367.2" y1="412.6" x2="448.8" y2="412.6" stroke="#EBEBEB" stroke-width="0.55"/>
<line x1="367.2" y1="376.2" x2="448.8" y2="376.2" stroke="#EBEBEB" stroke-width="0.55"/>
<line x1="367.2" y1="467.2" x2="448.8" y2="467.2" stroke="#EBEBEB" stroke-width="1.07"/>
<line x1="367.2" y1="430.8" x2="448.8" y2="430.8" stroke="#EBEBEB" stroke-width="1.07"/>
<line x1="367.2" y1="394.4" x2="448.8" y2="394.4" stroke="#EBEBEB" stroke-width="1.07"/>
<line x1="376.61" y1="367.2" x2="376.61" y2="472" stroke="#EBEBEB" stroke-width="1.07"/>
<line x1="392.3" y1="367.2" x2="392.3" y2="472" stroke="#EBEBEB" stroke-width="1.07"/>
<line x1="407.99" y1="367.2" x2="407.99" y2="472" stroke="#EBEBEB" stroke-width="1.07"/>
<line x1="423.68" y1="367.2" x2="423.68" y2="472" stroke="#EBEBEB" stroke-width="1.07"/>
<line x1="439.37" y1="367.2" x2="439.37" y2="472" stroke="#EBEBEB" stroke-width="1.07"/>
<text transform="translate(364.2 470.35) scale(1 1.12)" class="tk">0.000</text>
<text transform="translate(364.2 433.95) scale(1 1.12)" class="tk">0.050</text>
<text transform="translate(364.2 397.55) scale(1 1.12)" class="tk">0.100</text>
<rect x="369.95" y="411.2" width="6.28" height="56" fill="#E69F00" fill-opacity="0.45"/>
<rect x="377.01" y="411.2" width="6.28" height="56" fill="#E69F00"/>
<rect x="385.64" y="411.2" width="6.28" height="56" fill="#56B4E9" fill-opacity="0.45"/>
<rect x="392.7" y="411.2" width="6.28" height="56" fill="#56B4E9"/>
<rect x="401.33" y="390" width="6.28" height="77.2" fill="#009E73" fill-opacity="0.45"/>
<rect x="408.39" y="384" width="6.28" height="83.2" fill="#009E73"/>
<rect x="417.02" y="446.2" width="6.28" height="21" fill="#CC79A7" fill-opacity="0.45"/>
<rect x="424.08" y="402.6" width="6.28" height="64.6" fill="#CC79A7"/>
<rect x="436.24" y="410.4" width="6.28" height="56.8" fill="#0072B2"/>
<path d="M373.08 401V420.6M372.43 401H373.73M372.43 420.6H373.73" stroke="#333333" stroke-width="0.6" fill="none"/>
<path d="M380.14 401V420.6M379.34 401H380.94M379.34 420.6H380.94" stroke="#1A1A1A" stroke-width="1.0" fill="none"/>
<path d="M388.77 400.6V420.6M388.12 400.6H389.42M388.12 420.6H389.42" stroke="#333333" stroke-width="0.6" fill="none"/>
<path d="M395.83 400.6V420.6M395.03 400.6H396.63M395.03 420.6H396.63" stroke="#1A1A1A" stroke-width="1.0" fill="none"/>
<path d="M404.46 378.4V401.2M403.81 378.4H405.11M403.81 401.2H405.11" stroke="#333333" stroke-width="0.6" fill="none"/>
<path d="M411.52 372.2V395.2M410.72 372.2H412.32M410.72 395.2H412.32" stroke="#1A1A1A" stroke-width="1.0" fill="none"/>
<path d="M420.15 439.4V452M419.5 439.4H420.8M419.5 452H420.8" stroke="#333333" stroke-width="0.6" fill="none"/>
<path d="M427.21 391.6V412.8M426.41 391.6H428.01M426.41 412.8H428.01" stroke="#1A1A1A" stroke-width="1.0" fill="none"/>
<path d="M439.37 400V419.6M437.87 400H440.87M437.87 419.6H440.87" stroke="#1A1A1A" stroke-width="1.0" fill="none"/>
<line x1="367.2" y1="386.4" x2="448.8" y2="386.4" stroke="#404040" stroke-width="1.2" stroke-dasharray="2.58 2.54"/>
<text transform="translate(408 363.7) scale(1 1.12)" class="st">HDL</text>
<line x1="477.2" y1="455.25" x2="558.8" y2="455.25" stroke="#EBEBEB" stroke-width="0.55"/>
<line x1="477.2" y1="431.34" x2="558.8" y2="431.34" stroke="#EBEBEB" stroke-width="0.55"/>
<line x1="477.2" y1="407.43" x2="558.8" y2="407.43" stroke="#EBEBEB" stroke-width="0.55"/>
<line x1="477.2" y1="383.53" x2="558.8" y2="383.53" stroke="#EBEBEB" stroke-width="0.55"/>
<line x1="477.2" y1="467.2" x2="558.8" y2="467.2" stroke="#EBEBEB" stroke-width="1.07"/>
<line x1="477.2" y1="443.29" x2="558.8" y2="443.29" stroke="#EBEBEB" stroke-width="1.07"/>
<line x1="477.2" y1="419.39" x2="558.8" y2="419.39" stroke="#EBEBEB" stroke-width="1.07"/>
<line x1="477.2" y1="395.48" x2="558.8" y2="395.48" stroke="#EBEBEB" stroke-width="1.07"/>
<line x1="477.2" y1="371.57" x2="558.8" y2="371.57" stroke="#EBEBEB" stroke-width="1.07"/>
<line x1="486.61" y1="367.2" x2="486.61" y2="472" stroke="#EBEBEB" stroke-width="1.07"/>
<line x1="502.3" y1="367.2" x2="502.3" y2="472" stroke="#EBEBEB" stroke-width="1.07"/>
<line x1="517.99" y1="367.2" x2="517.99" y2="472" stroke="#EBEBEB" stroke-width="1.07"/>
<line x1="533.68" y1="367.2" x2="533.68" y2="472" stroke="#EBEBEB" stroke-width="1.07"/>
<line x1="549.37" y1="367.2" x2="549.37" y2="472" stroke="#EBEBEB" stroke-width="1.07"/>
<text transform="translate(474.2 470.35) scale(1 1.12)" class="tk">0.000</text>
<text transform="translate(474.2 446.44) scale(1 1.12)" class="tk">0.010</text>
<text transform="translate(474.2 422.54) scale(1 1.12)" class="tk">0.020</text>
<text transform="translate(474.2 398.63) scale(1 1.12)" class="tk">0.030</text>
<text transform="translate(474.2 374.72) scale(1 1.12)" class="tk">0.040</text>
<rect x="479.95" y="414.6" width="6.28" height="52.6" fill="#E69F00" fill-opacity="0.45"/>
<rect x="487.01" y="417.6" width="6.28" height="49.6" fill="#E69F00"/>
<rect x="495.64" y="418.4" width="6.28" height="48.8" fill="#56B4E9" fill-opacity="0.45"/>
<rect x="502.7" y="417.6" width="6.28" height="49.6" fill="#56B4E9"/>
<rect x="511.33" y="405" width="6.28" height="62.2" fill="#009E73" fill-opacity="0.45"/>
<rect x="518.39" y="396.6" width="6.28" height="70.6" fill="#009E73"/>
<rect x="527.02" y="439" width="6.28" height="28.2" fill="#CC79A7" fill-opacity="0.45"/>
<rect x="534.08" y="394.2" width="6.28" height="73" fill="#CC79A7"/>
<rect x="546.24" y="408.8" width="6.28" height="58.4" fill="#0072B2"/>
<path d="M483.08 395.2V430.6M482.43 395.2H483.73M482.43 430.6H483.73" stroke="#333333" stroke-width="0.6" fill="none"/>
<path d="M490.14 398.4V433.6M489.34 398.4H490.94M489.34 433.6H490.94" stroke="#1A1A1A" stroke-width="1.0" fill="none"/>
<path d="M498.77 399.4V433.6M498.12 399.4H499.42M498.12 433.6H499.42" stroke="#333333" stroke-width="0.6" fill="none"/>
<path d="M505.83 398.6V433.6M505.03 398.6H506.63M505.03 433.6H506.63" stroke="#1A1A1A" stroke-width="1.0" fill="none"/>
<path d="M514.46 384V422.6M513.81 384H515.11M513.81 422.6H515.11" stroke="#333333" stroke-width="0.6" fill="none"/>
<path d="M521.52 374.4V415.6M520.72 374.4H522.32M520.72 415.6H522.32" stroke="#1A1A1A" stroke-width="1.0" fill="none"/>
<path d="M530.15 424.4V450.4M529.5 424.4H530.8M529.5 450.4H530.8" stroke="#333333" stroke-width="0.6" fill="none"/>
<path d="M537.21 372.2V413.6M536.41 372.2H538.01M536.41 413.6H538.01" stroke="#1A1A1A" stroke-width="1.0" fill="none"/>
<path d="M549.37 388.4V425.6M547.87 388.4H550.87M547.87 425.6H550.87" stroke="#1A1A1A" stroke-width="1.0" fill="none"/>
<line x1="477.2" y1="382.4" x2="558.8" y2="382.4" stroke="#404040" stroke-width="1.2" stroke-dasharray="2.58 2.54"/>
<text transform="translate(518 363.7) scale(1 1.12)" class="st">Cholesterol</text>
<line x1="587.2" y1="456.99" x2="668.8" y2="456.99" stroke="#EBEBEB" stroke-width="0.55"/>
<line x1="587.2" y1="436.56" x2="668.8" y2="436.56" stroke="#EBEBEB" stroke-width="0.55"/>
<line x1="587.2" y1="416.13" x2="668.8" y2="416.13" stroke="#EBEBEB" stroke-width="0.55"/>
<line x1="587.2" y1="395.71" x2="668.8" y2="395.71" stroke="#EBEBEB" stroke-width="0.55"/>
<line x1="587.2" y1="375.28" x2="668.8" y2="375.28" stroke="#EBEBEB" stroke-width="0.55"/>
<line x1="587.2" y1="467.2" x2="668.8" y2="467.2" stroke="#EBEBEB" stroke-width="1.07"/>
<line x1="587.2" y1="446.77" x2="668.8" y2="446.77" stroke="#EBEBEB" stroke-width="1.07"/>
<line x1="587.2" y1="426.35" x2="668.8" y2="426.35" stroke="#EBEBEB" stroke-width="1.07"/>
<line x1="587.2" y1="405.92" x2="668.8" y2="405.92" stroke="#EBEBEB" stroke-width="1.07"/>
<line x1="587.2" y1="385.49" x2="668.8" y2="385.49" stroke="#EBEBEB" stroke-width="1.07"/>
<line x1="596.61" y1="367.2" x2="596.61" y2="472" stroke="#EBEBEB" stroke-width="1.07"/>
<line x1="612.3" y1="367.2" x2="612.3" y2="472" stroke="#EBEBEB" stroke-width="1.07"/>
<line x1="627.99" y1="367.2" x2="627.99" y2="472" stroke="#EBEBEB" stroke-width="1.07"/>
<line x1="643.68" y1="367.2" x2="643.68" y2="472" stroke="#EBEBEB" stroke-width="1.07"/>
<line x1="659.37" y1="367.2" x2="659.37" y2="472" stroke="#EBEBEB" stroke-width="1.07"/>
<text transform="translate(584.2 470.35) scale(1 1.12)" class="tk">0.000</text>
<text transform="translate(584.2 449.92) scale(1 1.12)" class="tk">0.050</text>
<text transform="translate(584.2 429.5) scale(1 1.12)" class="tk">0.100</text>
<text transform="translate(584.2 409.07) scale(1 1.12)" class="tk">0.150</text>
<text transform="translate(584.2 388.64) scale(1 1.12)" class="tk">0.200</text>
<rect x="589.95" y="407" width="6.28" height="60.2" fill="#E69F00" fill-opacity="0.45"/>
<rect x="597.01" y="404" width="6.28" height="63.2" fill="#E69F00"/>
<rect x="605.64" y="404" width="6.28" height="63.2" fill="#56B4E9" fill-opacity="0.45"/>
<rect x="612.7" y="404" width="6.28" height="63.2" fill="#56B4E9"/>
<rect x="621.33" y="397.6" width="6.28" height="69.6" fill="#009E73" fill-opacity="0.45"/>
<rect x="628.39" y="397.6" width="6.28" height="69.6" fill="#009E73"/>
<rect x="637.02" y="449" width="6.28" height="18.2" fill="#CC79A7" fill-opacity="0.45"/>
<rect x="644.08" y="400" width="6.28" height="67.2" fill="#CC79A7"/>
<rect x="656.24" y="402.4" width="6.28" height="64.8" fill="#0072B2"/>
<path d="M593.08 402.4V411.6M592.43 402.4H593.73M592.43 411.6H593.73" stroke="#333333" stroke-width="0.6" fill="none"/>
<path d="M600.14 399.4V408.4M599.34 399.4H600.94M599.34 408.4H600.94" stroke="#1A1A1A" stroke-width="1.0" fill="none"/>
<path d="M608.77 399.4V408.4M608.12 399.4H609.42M608.12 408.4H609.42" stroke="#333333" stroke-width="0.6" fill="none"/>
<path d="M615.83 399.4V408.4M615.03 399.4H616.63M615.03 408.4H616.63" stroke="#1A1A1A" stroke-width="1.0" fill="none"/>
<path d="M624.46 392.4V402.4M623.81 392.4H625.11M623.81 402.4H625.11" stroke="#333333" stroke-width="0.6" fill="none"/>
<path d="M631.52 392.4V402.4M630.72 392.4H632.32M630.72 402.4H632.32" stroke="#1A1A1A" stroke-width="1.0" fill="none"/>
<path d="M640.15 445.6V452M639.5 445.6H640.8M639.5 452H640.8" stroke="#333333" stroke-width="0.6" fill="none"/>
<path d="M647.21 395.2V404.4M646.41 395.2H648.01M646.41 404.4H648.01" stroke="#1A1A1A" stroke-width="1.0" fill="none"/>
<path d="M659.37 397.6V407M657.87 397.6H660.87M657.87 407H660.87" stroke="#1A1A1A" stroke-width="1.0" fill="none"/>
<line x1="587.2" y1="372" x2="668.8" y2="372" stroke="#404040" stroke-width="1.2" stroke-dasharray="2.58 2.54"/>
<text transform="translate(628 363.7) scale(1 1.12)" class="st">Height</text>
<text transform="translate(672.7 419.6) rotate(90)" class="rs">Hispanic</text>
<text x="46.61" y="478.9" class="xl">TL<tspan dx="0.7">-</tspan><tspan dx="0.7">GDES</tspan></text>
<text x="62.3" y="486.9" class="xl">TL<tspan dx="0.7">-</tspan><tspan dx="0.7">PR</tspan></text>
<text x="77.99" y="478.9" class="xl">TL<tspan dx="0.7">-</tspan><tspan dx="0.7">BMM</tspan></text>
<text x="93.68" y="486.9" class="xl">PRS<tspan dx="0.7">-</tspan><tspan dx="0.7">CSx</tspan></text>
<text x="109.37" y="478.9" class="xl">PROSPER</text>
<text x="156.61" y="478.9" class="xl">TL<tspan dx="0.7">-</tspan><tspan dx="0.7">GDES</tspan></text>
<text x="172.3" y="486.9" class="xl">TL<tspan dx="0.7">-</tspan><tspan dx="0.7">PR</tspan></text>
<text x="187.99" y="478.9" class="xl">TL<tspan dx="0.7">-</tspan><tspan dx="0.7">BMM</tspan></text>
<text x="203.68" y="486.9" class="xl">PRS<tspan dx="0.7">-</tspan><tspan dx="0.7">CSx</tspan></text>
<text x="219.37" y="478.9" class="xl">PROSPER</text>
<text x="266.61" y="478.9" class="xl">TL<tspan dx="0.7">-</tspan><tspan dx="0.7">GDES</tspan></text>
<text x="282.3" y="486.9" class="xl">TL<tspan dx="0.7">-</tspan><tspan dx="0.7">PR</tspan></text>
<text x="297.99" y="478.9" class="xl">TL<tspan dx="0.7">-</tspan><tspan dx="0.7">BMM</tspan></text>
<text x="313.68" y="486.9" class="xl">PRS<tspan dx="0.7">-</tspan><tspan dx="0.7">CSx</tspan></text>
<text x="329.37" y="478.9" class="xl">PROSPER</text>
<text x="376.61" y="478.9" class="xl">TL<tspan dx="0.7">-</tspan><tspan dx="0.7">GDES</tspan></text>
<text x="392.3" y="486.9" class="xl">TL<tspan dx="0.7">-</tspan><tspan dx="0.7">PR</tspan></text>
<text x="407.99" y="478.9" class="xl">TL<tspan dx="0.7">-</tspan><tspan dx="0.7">BMM</tspan></text>
<text x="423.68" y="486.9" class="xl">PRS<tspan dx="0.7">-</tspan><tspan dx="0.7">CSx</tspan></text>
<text x="439.37" y="478.9" class="xl">PROSPER</text>
<text x="486.61" y="478.9" class="xl">TL<tspan dx="0.7">-</tspan><tspan dx="0.7">GDES</tspan></text>
<text x="502.3" y="486.9" class="xl">TL<tspan dx="0.7">-</tspan><tspan dx="0.7">PR</tspan></text>
<text x="517.99" y="478.9" class="xl">TL<tspan dx="0.7">-</tspan><tspan dx="0.7">BMM</tspan></text>
<text x="533.68" y="486.9" class="xl">PRS<tspan dx="0.7">-</tspan><tspan dx="0.7">CSx</tspan></text>
<text x="549.37" y="478.9" class="xl">PROSPER</text>
<text x="596.61" y="478.9" class="xl">TL<tspan dx="0.7">-</tspan><tspan dx="0.7">GDES</tspan></text>
<text x="612.3" y="486.9" class="xl">TL<tspan dx="0.7">-</tspan><tspan dx="0.7">PR</tspan></text>
<text x="627.99" y="478.9" class="xl">TL<tspan dx="0.7">-</tspan><tspan dx="0.7">BMM</tspan></text>
<text x="643.68" y="486.9" class="xl">PRS<tspan dx="0.7">-</tspan><tspan dx="0.7">CSx</tspan></text>
<text x="659.37" y="478.9" class="xl">PROSPER</text>
<text transform="translate(7.0 257.3) rotate(-90)" class="yt">PGS Prediction squared correlation</text>
<text x="218.6" y="506.2" class="lg">Type:</text>
<rect x="246" y="499" width="10" height="9.5" fill="#B5B5B5"/>
<line x1="246.8" y1="503.5" x2="255.2" y2="503.5" stroke="#7A7A7A" stroke-width="1"/>
<text x="259.5" y="506.2" class="lg">Target Pop Only</text>
<rect x="333" y="499" width="10" height="9.5" fill="#555555"/>
<line x1="333.8" y1="503.5" x2="342.2" y2="503.5" stroke="#111111" stroke-width="1.1"/>
<text x="347.2" y="506.2" class="lg">Target &amp; Source Pops Ensemble</text>
</svg>
</body></html>
